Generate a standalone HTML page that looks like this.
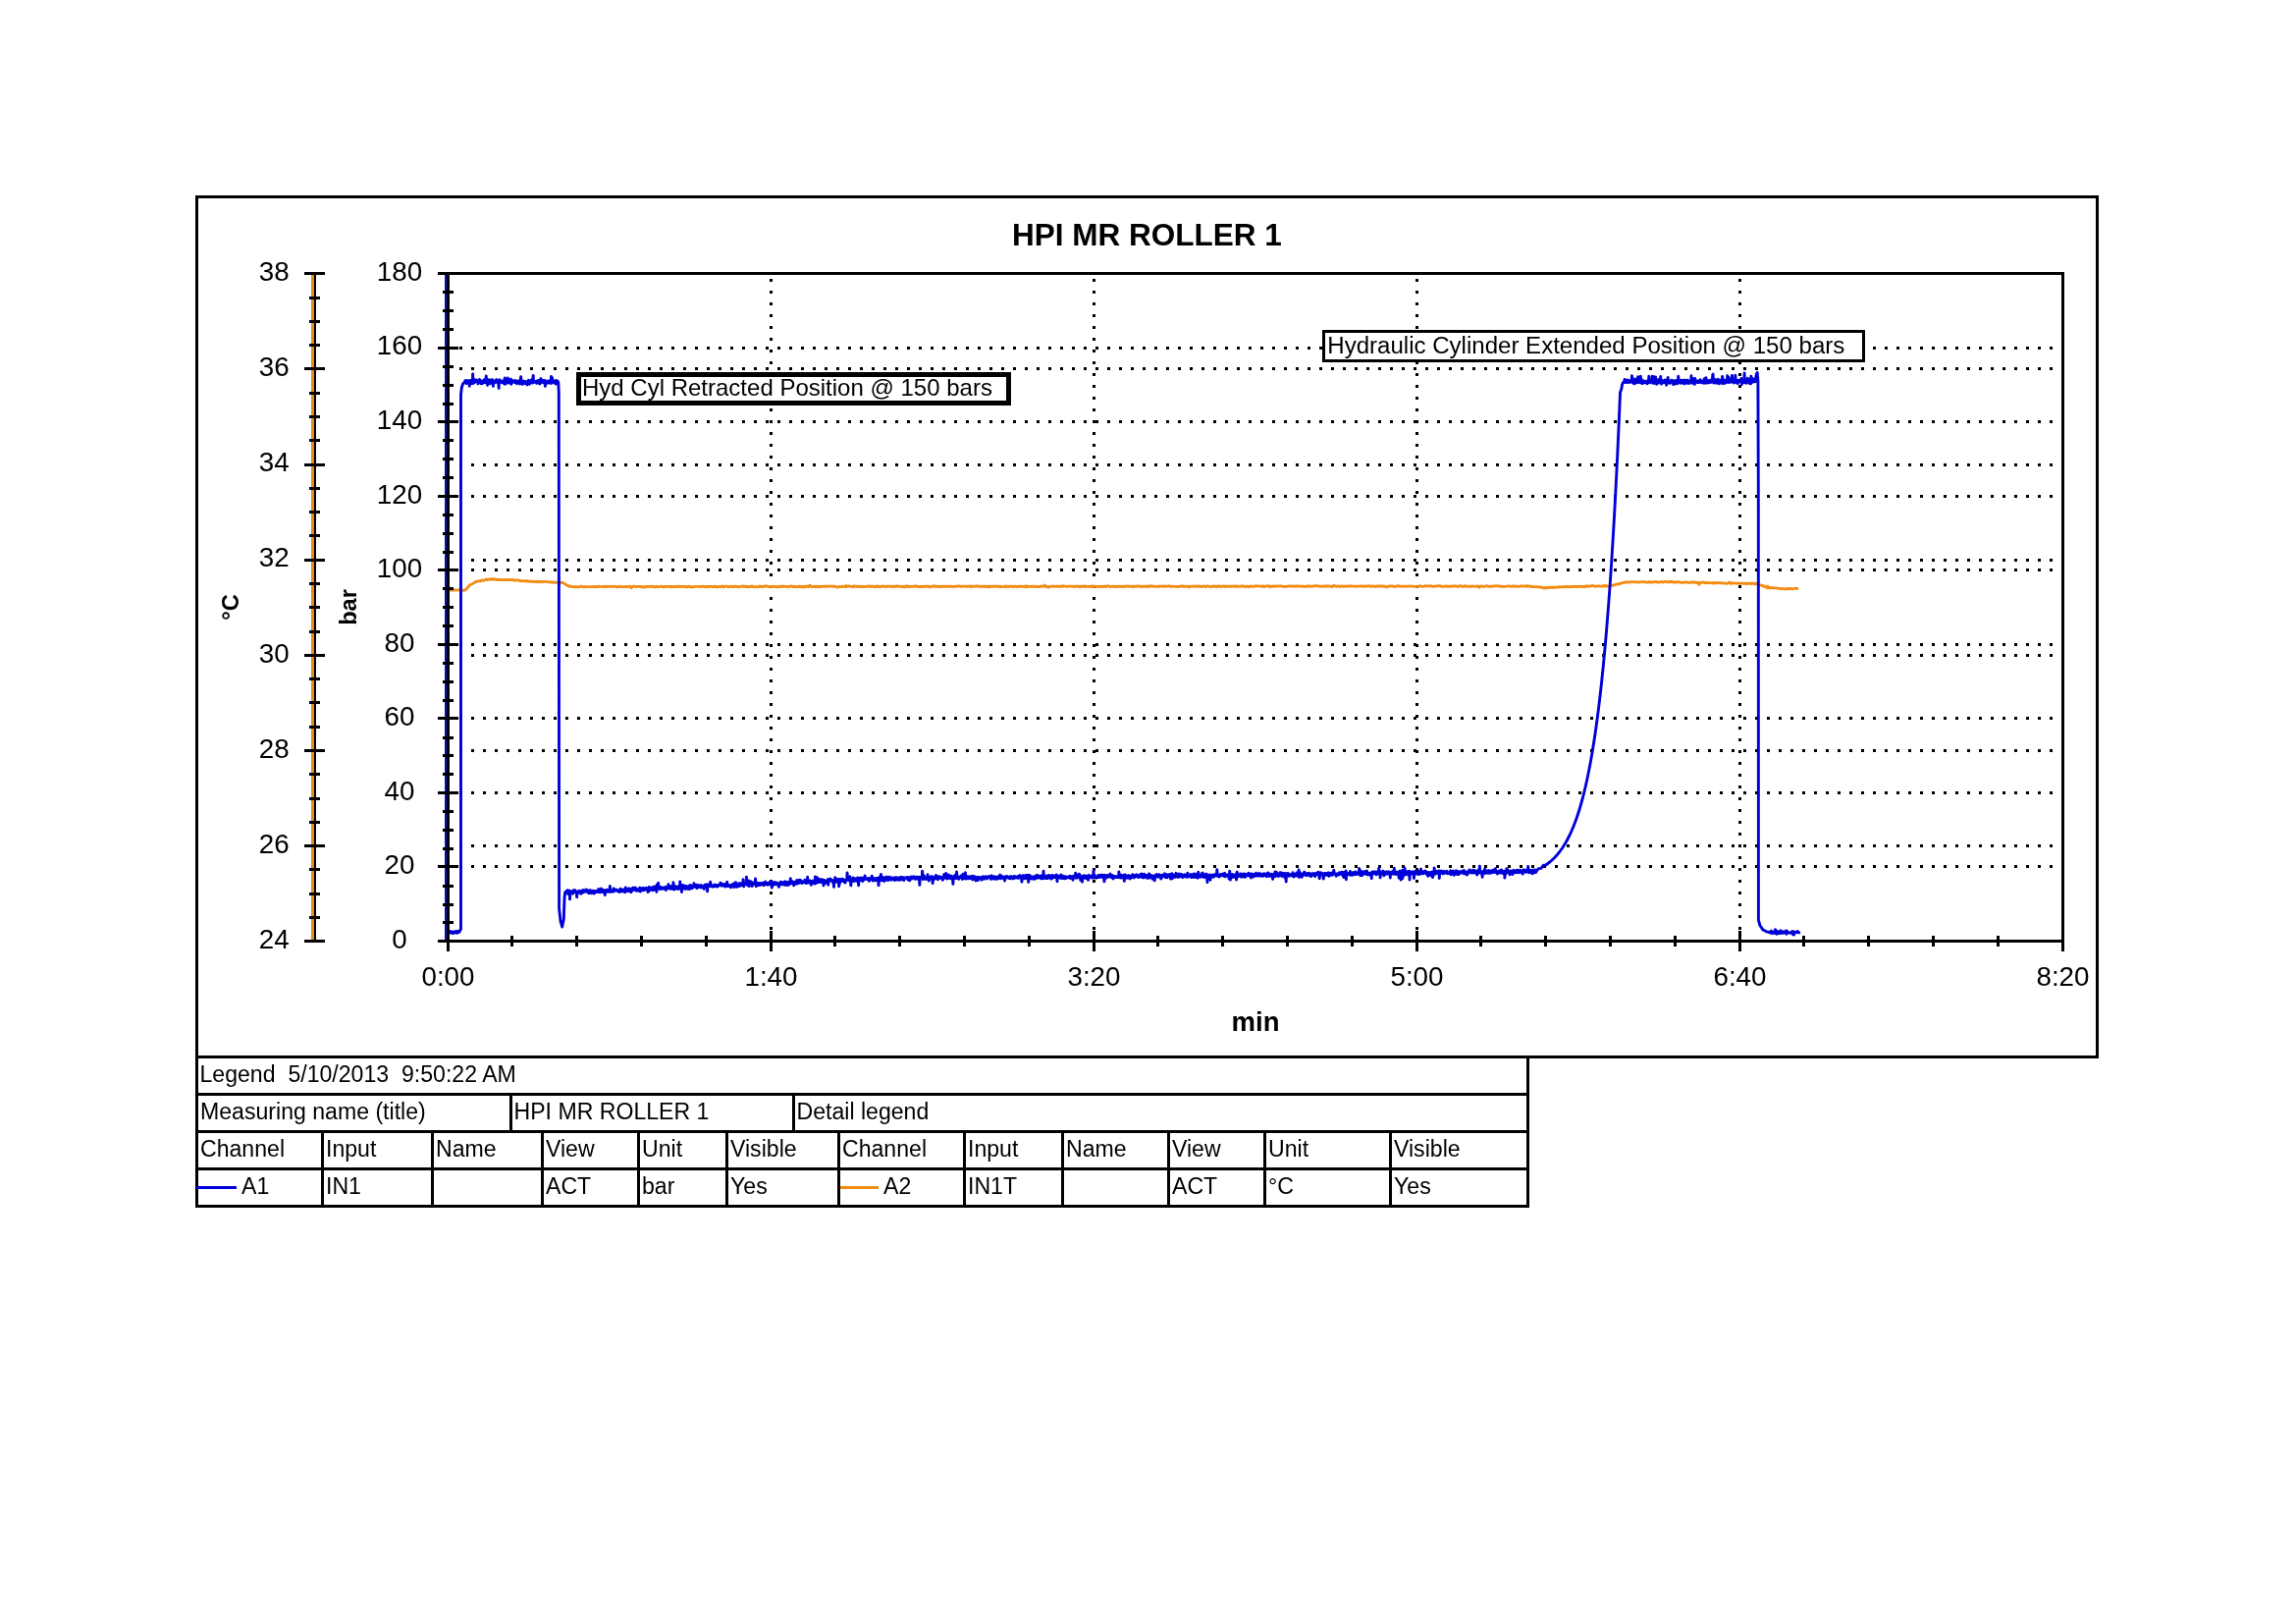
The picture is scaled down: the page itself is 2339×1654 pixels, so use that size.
<!DOCTYPE html>
<html><head><meta charset="utf-8"><title>HPI MR ROLLER 1</title>
<style>html,body{margin:0;padding:0;background:#fff;}body{width:2339px;height:1654px;overflow:hidden;font-family:"Liberation Sans",sans-serif;}svg{display:block;will-change:transform;}</style>
</head><body>
<svg width="2339" height="1654" viewBox="0 0 2339 1654" font-family="Liberation Sans, sans-serif"><rect x="199" y="199" width="1939" height="3" fill="#000"/>
<rect x="199" y="1075" width="1939" height="3" fill="#000"/>
<rect x="199" y="199" width="3" height="879" fill="#000"/>
<rect x="2135" y="199" width="3" height="879" fill="#000"/>
<text x="1168.5" y="250" font-size="31.5" text-anchor="middle" font-weight="bold">HPI MR ROLLER 1</text>
<path d="M784 284h3v3h-3zM784 296h3v3h-3zM784 308h3v3h-3zM784 320h3v3h-3zM784 332h3v3h-3zM784 344h3v3h-3zM784 356h3v3h-3zM784 368h3v3h-3zM784 380h3v3h-3zM784 392h3v3h-3zM784 404h3v3h-3zM784 416h3v3h-3zM784 428h3v3h-3zM784 440h3v3h-3zM784 452h3v3h-3zM784 464h3v3h-3zM784 476h3v3h-3zM784 488h3v3h-3zM784 500h3v3h-3zM784 512h3v3h-3zM784 524h3v3h-3zM784 536h3v3h-3zM784 548h3v3h-3zM784 560h3v3h-3zM784 572h3v3h-3zM784 584h3v3h-3zM784 596h3v3h-3zM784 608h3v3h-3zM784 620h3v3h-3zM784 632h3v3h-3zM784 644h3v3h-3zM784 656h3v3h-3zM784 668h3v3h-3zM784 680h3v3h-3zM784 692h3v3h-3zM784 704h3v3h-3zM784 716h3v3h-3zM784 728h3v3h-3zM784 740h3v3h-3zM784 752h3v3h-3zM784 764h3v3h-3zM784 776h3v3h-3zM784 788h3v3h-3zM784 800h3v3h-3zM784 812h3v3h-3zM784 824h3v3h-3zM784 836h3v3h-3zM784 848h3v3h-3zM784 860h3v3h-3zM784 872h3v3h-3zM784 884h3v3h-3zM784 896h3v3h-3zM784 908h3v3h-3zM784 920h3v3h-3zM784 932h3v3h-3zM784 944h3v3h-3zM1113 284h3v3h-3zM1113 296h3v3h-3zM1113 308h3v3h-3zM1113 320h3v3h-3zM1113 332h3v3h-3zM1113 344h3v3h-3zM1113 356h3v3h-3zM1113 368h3v3h-3zM1113 380h3v3h-3zM1113 392h3v3h-3zM1113 404h3v3h-3zM1113 416h3v3h-3zM1113 428h3v3h-3zM1113 440h3v3h-3zM1113 452h3v3h-3zM1113 464h3v3h-3zM1113 476h3v3h-3zM1113 488h3v3h-3zM1113 500h3v3h-3zM1113 512h3v3h-3zM1113 524h3v3h-3zM1113 536h3v3h-3zM1113 548h3v3h-3zM1113 560h3v3h-3zM1113 572h3v3h-3zM1113 584h3v3h-3zM1113 596h3v3h-3zM1113 608h3v3h-3zM1113 620h3v3h-3zM1113 632h3v3h-3zM1113 644h3v3h-3zM1113 656h3v3h-3zM1113 668h3v3h-3zM1113 680h3v3h-3zM1113 692h3v3h-3zM1113 704h3v3h-3zM1113 716h3v3h-3zM1113 728h3v3h-3zM1113 740h3v3h-3zM1113 752h3v3h-3zM1113 764h3v3h-3zM1113 776h3v3h-3zM1113 788h3v3h-3zM1113 800h3v3h-3zM1113 812h3v3h-3zM1113 824h3v3h-3zM1113 836h3v3h-3zM1113 848h3v3h-3zM1113 860h3v3h-3zM1113 872h3v3h-3zM1113 884h3v3h-3zM1113 896h3v3h-3zM1113 908h3v3h-3zM1113 920h3v3h-3zM1113 932h3v3h-3zM1113 944h3v3h-3zM1442 284h3v3h-3zM1442 296h3v3h-3zM1442 308h3v3h-3zM1442 320h3v3h-3zM1442 332h3v3h-3zM1442 344h3v3h-3zM1442 356h3v3h-3zM1442 368h3v3h-3zM1442 380h3v3h-3zM1442 392h3v3h-3zM1442 404h3v3h-3zM1442 416h3v3h-3zM1442 428h3v3h-3zM1442 440h3v3h-3zM1442 452h3v3h-3zM1442 464h3v3h-3zM1442 476h3v3h-3zM1442 488h3v3h-3zM1442 500h3v3h-3zM1442 512h3v3h-3zM1442 524h3v3h-3zM1442 536h3v3h-3zM1442 548h3v3h-3zM1442 560h3v3h-3zM1442 572h3v3h-3zM1442 584h3v3h-3zM1442 596h3v3h-3zM1442 608h3v3h-3zM1442 620h3v3h-3zM1442 632h3v3h-3zM1442 644h3v3h-3zM1442 656h3v3h-3zM1442 668h3v3h-3zM1442 680h3v3h-3zM1442 692h3v3h-3zM1442 704h3v3h-3zM1442 716h3v3h-3zM1442 728h3v3h-3zM1442 740h3v3h-3zM1442 752h3v3h-3zM1442 764h3v3h-3zM1442 776h3v3h-3zM1442 788h3v3h-3zM1442 800h3v3h-3zM1442 812h3v3h-3zM1442 824h3v3h-3zM1442 836h3v3h-3zM1442 848h3v3h-3zM1442 860h3v3h-3zM1442 872h3v3h-3zM1442 884h3v3h-3zM1442 896h3v3h-3zM1442 908h3v3h-3zM1442 920h3v3h-3zM1442 932h3v3h-3zM1442 944h3v3h-3zM1771 284h3v3h-3zM1771 296h3v3h-3zM1771 308h3v3h-3zM1771 320h3v3h-3zM1771 332h3v3h-3zM1771 344h3v3h-3zM1771 356h3v3h-3zM1771 368h3v3h-3zM1771 380h3v3h-3zM1771 392h3v3h-3zM1771 404h3v3h-3zM1771 416h3v3h-3zM1771 428h3v3h-3zM1771 440h3v3h-3zM1771 452h3v3h-3zM1771 464h3v3h-3zM1771 476h3v3h-3zM1771 488h3v3h-3zM1771 500h3v3h-3zM1771 512h3v3h-3zM1771 524h3v3h-3zM1771 536h3v3h-3zM1771 548h3v3h-3zM1771 560h3v3h-3zM1771 572h3v3h-3zM1771 584h3v3h-3zM1771 596h3v3h-3zM1771 608h3v3h-3zM1771 620h3v3h-3zM1771 632h3v3h-3zM1771 644h3v3h-3zM1771 656h3v3h-3zM1771 668h3v3h-3zM1771 680h3v3h-3zM1771 692h3v3h-3zM1771 704h3v3h-3zM1771 716h3v3h-3zM1771 728h3v3h-3zM1771 740h3v3h-3zM1771 752h3v3h-3zM1771 764h3v3h-3zM1771 776h3v3h-3zM1771 788h3v3h-3zM1771 800h3v3h-3zM1771 812h3v3h-3zM1771 824h3v3h-3zM1771 836h3v3h-3zM1771 848h3v3h-3zM1771 860h3v3h-3zM1771 872h3v3h-3zM1771 884h3v3h-3zM1771 896h3v3h-3zM1771 908h3v3h-3zM1771 920h3v3h-3zM1771 932h3v3h-3zM1771 944h3v3h-3zM468 353h3v3h-3zM480 353h3v3h-3zM492 353h3v3h-3zM504 353h3v3h-3zM516 353h3v3h-3zM528 353h3v3h-3zM540 353h3v3h-3zM552 353h3v3h-3zM564 353h3v3h-3zM576 353h3v3h-3zM588 353h3v3h-3zM600 353h3v3h-3zM612 353h3v3h-3zM624 353h3v3h-3zM636 353h3v3h-3zM648 353h3v3h-3zM660 353h3v3h-3zM672 353h3v3h-3zM684 353h3v3h-3zM696 353h3v3h-3zM708 353h3v3h-3zM720 353h3v3h-3zM732 353h3v3h-3zM744 353h3v3h-3zM756 353h3v3h-3zM768 353h3v3h-3zM780 353h3v3h-3zM792 353h3v3h-3zM804 353h3v3h-3zM816 353h3v3h-3zM828 353h3v3h-3zM840 353h3v3h-3zM852 353h3v3h-3zM864 353h3v3h-3zM876 353h3v3h-3zM888 353h3v3h-3zM900 353h3v3h-3zM912 353h3v3h-3zM924 353h3v3h-3zM936 353h3v3h-3zM948 353h3v3h-3zM960 353h3v3h-3zM972 353h3v3h-3zM984 353h3v3h-3zM996 353h3v3h-3zM1008 353h3v3h-3zM1020 353h3v3h-3zM1032 353h3v3h-3zM1044 353h3v3h-3zM1056 353h3v3h-3zM1068 353h3v3h-3zM1080 353h3v3h-3zM1092 353h3v3h-3zM1104 353h3v3h-3zM1116 353h3v3h-3zM1128 353h3v3h-3zM1140 353h3v3h-3zM1152 353h3v3h-3zM1164 353h3v3h-3zM1176 353h3v3h-3zM1188 353h3v3h-3zM1200 353h3v3h-3zM1212 353h3v3h-3zM1224 353h3v3h-3zM1236 353h3v3h-3zM1248 353h3v3h-3zM1260 353h3v3h-3zM1272 353h3v3h-3zM1284 353h3v3h-3zM1296 353h3v3h-3zM1308 353h3v3h-3zM1320 353h3v3h-3zM1332 353h3v3h-3zM1344 353h3v3h-3zM1356 353h3v3h-3zM1368 353h3v3h-3zM1380 353h3v3h-3zM1392 353h3v3h-3zM1404 353h3v3h-3zM1416 353h3v3h-3zM1428 353h3v3h-3zM1440 353h3v3h-3zM1452 353h3v3h-3zM1464 353h3v3h-3zM1476 353h3v3h-3zM1488 353h3v3h-3zM1500 353h3v3h-3zM1512 353h3v3h-3zM1524 353h3v3h-3zM1536 353h3v3h-3zM1548 353h3v3h-3zM1560 353h3v3h-3zM1572 353h3v3h-3zM1584 353h3v3h-3zM1596 353h3v3h-3zM1608 353h3v3h-3zM1620 353h3v3h-3zM1632 353h3v3h-3zM1644 353h3v3h-3zM1656 353h3v3h-3zM1668 353h3v3h-3zM1680 353h3v3h-3zM1692 353h3v3h-3zM1704 353h3v3h-3zM1716 353h3v3h-3zM1728 353h3v3h-3zM1740 353h3v3h-3zM1752 353h3v3h-3zM1764 353h3v3h-3zM1776 353h3v3h-3zM1788 353h3v3h-3zM1800 353h3v3h-3zM1812 353h3v3h-3zM1824 353h3v3h-3zM1836 353h3v3h-3zM1848 353h3v3h-3zM1860 353h3v3h-3zM1872 353h3v3h-3zM1884 353h3v3h-3zM1896 353h3v3h-3zM1908 353h3v3h-3zM1920 353h3v3h-3zM1932 353h3v3h-3zM1944 353h3v3h-3zM1956 353h3v3h-3zM1968 353h3v3h-3zM1980 353h3v3h-3zM1992 353h3v3h-3zM2004 353h3v3h-3zM2016 353h3v3h-3zM2028 353h3v3h-3zM2040 353h3v3h-3zM2052 353h3v3h-3zM2064 353h3v3h-3zM2076 353h3v3h-3zM2088 353h3v3h-3zM468 428h3v3h-3zM480 428h3v3h-3zM492 428h3v3h-3zM504 428h3v3h-3zM516 428h3v3h-3zM528 428h3v3h-3zM540 428h3v3h-3zM552 428h3v3h-3zM564 428h3v3h-3zM576 428h3v3h-3zM588 428h3v3h-3zM600 428h3v3h-3zM612 428h3v3h-3zM624 428h3v3h-3zM636 428h3v3h-3zM648 428h3v3h-3zM660 428h3v3h-3zM672 428h3v3h-3zM684 428h3v3h-3zM696 428h3v3h-3zM708 428h3v3h-3zM720 428h3v3h-3zM732 428h3v3h-3zM744 428h3v3h-3zM756 428h3v3h-3zM768 428h3v3h-3zM780 428h3v3h-3zM792 428h3v3h-3zM804 428h3v3h-3zM816 428h3v3h-3zM828 428h3v3h-3zM840 428h3v3h-3zM852 428h3v3h-3zM864 428h3v3h-3zM876 428h3v3h-3zM888 428h3v3h-3zM900 428h3v3h-3zM912 428h3v3h-3zM924 428h3v3h-3zM936 428h3v3h-3zM948 428h3v3h-3zM960 428h3v3h-3zM972 428h3v3h-3zM984 428h3v3h-3zM996 428h3v3h-3zM1008 428h3v3h-3zM1020 428h3v3h-3zM1032 428h3v3h-3zM1044 428h3v3h-3zM1056 428h3v3h-3zM1068 428h3v3h-3zM1080 428h3v3h-3zM1092 428h3v3h-3zM1104 428h3v3h-3zM1116 428h3v3h-3zM1128 428h3v3h-3zM1140 428h3v3h-3zM1152 428h3v3h-3zM1164 428h3v3h-3zM1176 428h3v3h-3zM1188 428h3v3h-3zM1200 428h3v3h-3zM1212 428h3v3h-3zM1224 428h3v3h-3zM1236 428h3v3h-3zM1248 428h3v3h-3zM1260 428h3v3h-3zM1272 428h3v3h-3zM1284 428h3v3h-3zM1296 428h3v3h-3zM1308 428h3v3h-3zM1320 428h3v3h-3zM1332 428h3v3h-3zM1344 428h3v3h-3zM1356 428h3v3h-3zM1368 428h3v3h-3zM1380 428h3v3h-3zM1392 428h3v3h-3zM1404 428h3v3h-3zM1416 428h3v3h-3zM1428 428h3v3h-3zM1440 428h3v3h-3zM1452 428h3v3h-3zM1464 428h3v3h-3zM1476 428h3v3h-3zM1488 428h3v3h-3zM1500 428h3v3h-3zM1512 428h3v3h-3zM1524 428h3v3h-3zM1536 428h3v3h-3zM1548 428h3v3h-3zM1560 428h3v3h-3zM1572 428h3v3h-3zM1584 428h3v3h-3zM1596 428h3v3h-3zM1608 428h3v3h-3zM1620 428h3v3h-3zM1632 428h3v3h-3zM1644 428h3v3h-3zM1656 428h3v3h-3zM1668 428h3v3h-3zM1680 428h3v3h-3zM1692 428h3v3h-3zM1704 428h3v3h-3zM1716 428h3v3h-3zM1728 428h3v3h-3zM1740 428h3v3h-3zM1752 428h3v3h-3zM1764 428h3v3h-3zM1776 428h3v3h-3zM1788 428h3v3h-3zM1800 428h3v3h-3zM1812 428h3v3h-3zM1824 428h3v3h-3zM1836 428h3v3h-3zM1848 428h3v3h-3zM1860 428h3v3h-3zM1872 428h3v3h-3zM1884 428h3v3h-3zM1896 428h3v3h-3zM1908 428h3v3h-3zM1920 428h3v3h-3zM1932 428h3v3h-3zM1944 428h3v3h-3zM1956 428h3v3h-3zM1968 428h3v3h-3zM1980 428h3v3h-3zM1992 428h3v3h-3zM2004 428h3v3h-3zM2016 428h3v3h-3zM2028 428h3v3h-3zM2040 428h3v3h-3zM2052 428h3v3h-3zM2064 428h3v3h-3zM2076 428h3v3h-3zM2088 428h3v3h-3zM468 504h3v3h-3zM480 504h3v3h-3zM492 504h3v3h-3zM504 504h3v3h-3zM516 504h3v3h-3zM528 504h3v3h-3zM540 504h3v3h-3zM552 504h3v3h-3zM564 504h3v3h-3zM576 504h3v3h-3zM588 504h3v3h-3zM600 504h3v3h-3zM612 504h3v3h-3zM624 504h3v3h-3zM636 504h3v3h-3zM648 504h3v3h-3zM660 504h3v3h-3zM672 504h3v3h-3zM684 504h3v3h-3zM696 504h3v3h-3zM708 504h3v3h-3zM720 504h3v3h-3zM732 504h3v3h-3zM744 504h3v3h-3zM756 504h3v3h-3zM768 504h3v3h-3zM780 504h3v3h-3zM792 504h3v3h-3zM804 504h3v3h-3zM816 504h3v3h-3zM828 504h3v3h-3zM840 504h3v3h-3zM852 504h3v3h-3zM864 504h3v3h-3zM876 504h3v3h-3zM888 504h3v3h-3zM900 504h3v3h-3zM912 504h3v3h-3zM924 504h3v3h-3zM936 504h3v3h-3zM948 504h3v3h-3zM960 504h3v3h-3zM972 504h3v3h-3zM984 504h3v3h-3zM996 504h3v3h-3zM1008 504h3v3h-3zM1020 504h3v3h-3zM1032 504h3v3h-3zM1044 504h3v3h-3zM1056 504h3v3h-3zM1068 504h3v3h-3zM1080 504h3v3h-3zM1092 504h3v3h-3zM1104 504h3v3h-3zM1116 504h3v3h-3zM1128 504h3v3h-3zM1140 504h3v3h-3zM1152 504h3v3h-3zM1164 504h3v3h-3zM1176 504h3v3h-3zM1188 504h3v3h-3zM1200 504h3v3h-3zM1212 504h3v3h-3zM1224 504h3v3h-3zM1236 504h3v3h-3zM1248 504h3v3h-3zM1260 504h3v3h-3zM1272 504h3v3h-3zM1284 504h3v3h-3zM1296 504h3v3h-3zM1308 504h3v3h-3zM1320 504h3v3h-3zM1332 504h3v3h-3zM1344 504h3v3h-3zM1356 504h3v3h-3zM1368 504h3v3h-3zM1380 504h3v3h-3zM1392 504h3v3h-3zM1404 504h3v3h-3zM1416 504h3v3h-3zM1428 504h3v3h-3zM1440 504h3v3h-3zM1452 504h3v3h-3zM1464 504h3v3h-3zM1476 504h3v3h-3zM1488 504h3v3h-3zM1500 504h3v3h-3zM1512 504h3v3h-3zM1524 504h3v3h-3zM1536 504h3v3h-3zM1548 504h3v3h-3zM1560 504h3v3h-3zM1572 504h3v3h-3zM1584 504h3v3h-3zM1596 504h3v3h-3zM1608 504h3v3h-3zM1620 504h3v3h-3zM1632 504h3v3h-3zM1644 504h3v3h-3zM1656 504h3v3h-3zM1668 504h3v3h-3zM1680 504h3v3h-3zM1692 504h3v3h-3zM1704 504h3v3h-3zM1716 504h3v3h-3zM1728 504h3v3h-3zM1740 504h3v3h-3zM1752 504h3v3h-3zM1764 504h3v3h-3zM1776 504h3v3h-3zM1788 504h3v3h-3zM1800 504h3v3h-3zM1812 504h3v3h-3zM1824 504h3v3h-3zM1836 504h3v3h-3zM1848 504h3v3h-3zM1860 504h3v3h-3zM1872 504h3v3h-3zM1884 504h3v3h-3zM1896 504h3v3h-3zM1908 504h3v3h-3zM1920 504h3v3h-3zM1932 504h3v3h-3zM1944 504h3v3h-3zM1956 504h3v3h-3zM1968 504h3v3h-3zM1980 504h3v3h-3zM1992 504h3v3h-3zM2004 504h3v3h-3zM2016 504h3v3h-3zM2028 504h3v3h-3zM2040 504h3v3h-3zM2052 504h3v3h-3zM2064 504h3v3h-3zM2076 504h3v3h-3zM2088 504h3v3h-3zM468 579h3v3h-3zM480 579h3v3h-3zM492 579h3v3h-3zM504 579h3v3h-3zM516 579h3v3h-3zM528 579h3v3h-3zM540 579h3v3h-3zM552 579h3v3h-3zM564 579h3v3h-3zM576 579h3v3h-3zM588 579h3v3h-3zM600 579h3v3h-3zM612 579h3v3h-3zM624 579h3v3h-3zM636 579h3v3h-3zM648 579h3v3h-3zM660 579h3v3h-3zM672 579h3v3h-3zM684 579h3v3h-3zM696 579h3v3h-3zM708 579h3v3h-3zM720 579h3v3h-3zM732 579h3v3h-3zM744 579h3v3h-3zM756 579h3v3h-3zM768 579h3v3h-3zM780 579h3v3h-3zM792 579h3v3h-3zM804 579h3v3h-3zM816 579h3v3h-3zM828 579h3v3h-3zM840 579h3v3h-3zM852 579h3v3h-3zM864 579h3v3h-3zM876 579h3v3h-3zM888 579h3v3h-3zM900 579h3v3h-3zM912 579h3v3h-3zM924 579h3v3h-3zM936 579h3v3h-3zM948 579h3v3h-3zM960 579h3v3h-3zM972 579h3v3h-3zM984 579h3v3h-3zM996 579h3v3h-3zM1008 579h3v3h-3zM1020 579h3v3h-3zM1032 579h3v3h-3zM1044 579h3v3h-3zM1056 579h3v3h-3zM1068 579h3v3h-3zM1080 579h3v3h-3zM1092 579h3v3h-3zM1104 579h3v3h-3zM1116 579h3v3h-3zM1128 579h3v3h-3zM1140 579h3v3h-3zM1152 579h3v3h-3zM1164 579h3v3h-3zM1176 579h3v3h-3zM1188 579h3v3h-3zM1200 579h3v3h-3zM1212 579h3v3h-3zM1224 579h3v3h-3zM1236 579h3v3h-3zM1248 579h3v3h-3zM1260 579h3v3h-3zM1272 579h3v3h-3zM1284 579h3v3h-3zM1296 579h3v3h-3zM1308 579h3v3h-3zM1320 579h3v3h-3zM1332 579h3v3h-3zM1344 579h3v3h-3zM1356 579h3v3h-3zM1368 579h3v3h-3zM1380 579h3v3h-3zM1392 579h3v3h-3zM1404 579h3v3h-3zM1416 579h3v3h-3zM1428 579h3v3h-3zM1440 579h3v3h-3zM1452 579h3v3h-3zM1464 579h3v3h-3zM1476 579h3v3h-3zM1488 579h3v3h-3zM1500 579h3v3h-3zM1512 579h3v3h-3zM1524 579h3v3h-3zM1536 579h3v3h-3zM1548 579h3v3h-3zM1560 579h3v3h-3zM1572 579h3v3h-3zM1584 579h3v3h-3zM1596 579h3v3h-3zM1608 579h3v3h-3zM1620 579h3v3h-3zM1632 579h3v3h-3zM1644 579h3v3h-3zM1656 579h3v3h-3zM1668 579h3v3h-3zM1680 579h3v3h-3zM1692 579h3v3h-3zM1704 579h3v3h-3zM1716 579h3v3h-3zM1728 579h3v3h-3zM1740 579h3v3h-3zM1752 579h3v3h-3zM1764 579h3v3h-3zM1776 579h3v3h-3zM1788 579h3v3h-3zM1800 579h3v3h-3zM1812 579h3v3h-3zM1824 579h3v3h-3zM1836 579h3v3h-3zM1848 579h3v3h-3zM1860 579h3v3h-3zM1872 579h3v3h-3zM1884 579h3v3h-3zM1896 579h3v3h-3zM1908 579h3v3h-3zM1920 579h3v3h-3zM1932 579h3v3h-3zM1944 579h3v3h-3zM1956 579h3v3h-3zM1968 579h3v3h-3zM1980 579h3v3h-3zM1992 579h3v3h-3zM2004 579h3v3h-3zM2016 579h3v3h-3zM2028 579h3v3h-3zM2040 579h3v3h-3zM2052 579h3v3h-3zM2064 579h3v3h-3zM2076 579h3v3h-3zM2088 579h3v3h-3zM468 655h3v3h-3zM480 655h3v3h-3zM492 655h3v3h-3zM504 655h3v3h-3zM516 655h3v3h-3zM528 655h3v3h-3zM540 655h3v3h-3zM552 655h3v3h-3zM564 655h3v3h-3zM576 655h3v3h-3zM588 655h3v3h-3zM600 655h3v3h-3zM612 655h3v3h-3zM624 655h3v3h-3zM636 655h3v3h-3zM648 655h3v3h-3zM660 655h3v3h-3zM672 655h3v3h-3zM684 655h3v3h-3zM696 655h3v3h-3zM708 655h3v3h-3zM720 655h3v3h-3zM732 655h3v3h-3zM744 655h3v3h-3zM756 655h3v3h-3zM768 655h3v3h-3zM780 655h3v3h-3zM792 655h3v3h-3zM804 655h3v3h-3zM816 655h3v3h-3zM828 655h3v3h-3zM840 655h3v3h-3zM852 655h3v3h-3zM864 655h3v3h-3zM876 655h3v3h-3zM888 655h3v3h-3zM900 655h3v3h-3zM912 655h3v3h-3zM924 655h3v3h-3zM936 655h3v3h-3zM948 655h3v3h-3zM960 655h3v3h-3zM972 655h3v3h-3zM984 655h3v3h-3zM996 655h3v3h-3zM1008 655h3v3h-3zM1020 655h3v3h-3zM1032 655h3v3h-3zM1044 655h3v3h-3zM1056 655h3v3h-3zM1068 655h3v3h-3zM1080 655h3v3h-3zM1092 655h3v3h-3zM1104 655h3v3h-3zM1116 655h3v3h-3zM1128 655h3v3h-3zM1140 655h3v3h-3zM1152 655h3v3h-3zM1164 655h3v3h-3zM1176 655h3v3h-3zM1188 655h3v3h-3zM1200 655h3v3h-3zM1212 655h3v3h-3zM1224 655h3v3h-3zM1236 655h3v3h-3zM1248 655h3v3h-3zM1260 655h3v3h-3zM1272 655h3v3h-3zM1284 655h3v3h-3zM1296 655h3v3h-3zM1308 655h3v3h-3zM1320 655h3v3h-3zM1332 655h3v3h-3zM1344 655h3v3h-3zM1356 655h3v3h-3zM1368 655h3v3h-3zM1380 655h3v3h-3zM1392 655h3v3h-3zM1404 655h3v3h-3zM1416 655h3v3h-3zM1428 655h3v3h-3zM1440 655h3v3h-3zM1452 655h3v3h-3zM1464 655h3v3h-3zM1476 655h3v3h-3zM1488 655h3v3h-3zM1500 655h3v3h-3zM1512 655h3v3h-3zM1524 655h3v3h-3zM1536 655h3v3h-3zM1548 655h3v3h-3zM1560 655h3v3h-3zM1572 655h3v3h-3zM1584 655h3v3h-3zM1596 655h3v3h-3zM1608 655h3v3h-3zM1620 655h3v3h-3zM1632 655h3v3h-3zM1644 655h3v3h-3zM1656 655h3v3h-3zM1668 655h3v3h-3zM1680 655h3v3h-3zM1692 655h3v3h-3zM1704 655h3v3h-3zM1716 655h3v3h-3zM1728 655h3v3h-3zM1740 655h3v3h-3zM1752 655h3v3h-3zM1764 655h3v3h-3zM1776 655h3v3h-3zM1788 655h3v3h-3zM1800 655h3v3h-3zM1812 655h3v3h-3zM1824 655h3v3h-3zM1836 655h3v3h-3zM1848 655h3v3h-3zM1860 655h3v3h-3zM1872 655h3v3h-3zM1884 655h3v3h-3zM1896 655h3v3h-3zM1908 655h3v3h-3zM1920 655h3v3h-3zM1932 655h3v3h-3zM1944 655h3v3h-3zM1956 655h3v3h-3zM1968 655h3v3h-3zM1980 655h3v3h-3zM1992 655h3v3h-3zM2004 655h3v3h-3zM2016 655h3v3h-3zM2028 655h3v3h-3zM2040 655h3v3h-3zM2052 655h3v3h-3zM2064 655h3v3h-3zM2076 655h3v3h-3zM2088 655h3v3h-3zM468 730h3v3h-3zM480 730h3v3h-3zM492 730h3v3h-3zM504 730h3v3h-3zM516 730h3v3h-3zM528 730h3v3h-3zM540 730h3v3h-3zM552 730h3v3h-3zM564 730h3v3h-3zM576 730h3v3h-3zM588 730h3v3h-3zM600 730h3v3h-3zM612 730h3v3h-3zM624 730h3v3h-3zM636 730h3v3h-3zM648 730h3v3h-3zM660 730h3v3h-3zM672 730h3v3h-3zM684 730h3v3h-3zM696 730h3v3h-3zM708 730h3v3h-3zM720 730h3v3h-3zM732 730h3v3h-3zM744 730h3v3h-3zM756 730h3v3h-3zM768 730h3v3h-3zM780 730h3v3h-3zM792 730h3v3h-3zM804 730h3v3h-3zM816 730h3v3h-3zM828 730h3v3h-3zM840 730h3v3h-3zM852 730h3v3h-3zM864 730h3v3h-3zM876 730h3v3h-3zM888 730h3v3h-3zM900 730h3v3h-3zM912 730h3v3h-3zM924 730h3v3h-3zM936 730h3v3h-3zM948 730h3v3h-3zM960 730h3v3h-3zM972 730h3v3h-3zM984 730h3v3h-3zM996 730h3v3h-3zM1008 730h3v3h-3zM1020 730h3v3h-3zM1032 730h3v3h-3zM1044 730h3v3h-3zM1056 730h3v3h-3zM1068 730h3v3h-3zM1080 730h3v3h-3zM1092 730h3v3h-3zM1104 730h3v3h-3zM1116 730h3v3h-3zM1128 730h3v3h-3zM1140 730h3v3h-3zM1152 730h3v3h-3zM1164 730h3v3h-3zM1176 730h3v3h-3zM1188 730h3v3h-3zM1200 730h3v3h-3zM1212 730h3v3h-3zM1224 730h3v3h-3zM1236 730h3v3h-3zM1248 730h3v3h-3zM1260 730h3v3h-3zM1272 730h3v3h-3zM1284 730h3v3h-3zM1296 730h3v3h-3zM1308 730h3v3h-3zM1320 730h3v3h-3zM1332 730h3v3h-3zM1344 730h3v3h-3zM1356 730h3v3h-3zM1368 730h3v3h-3zM1380 730h3v3h-3zM1392 730h3v3h-3zM1404 730h3v3h-3zM1416 730h3v3h-3zM1428 730h3v3h-3zM1440 730h3v3h-3zM1452 730h3v3h-3zM1464 730h3v3h-3zM1476 730h3v3h-3zM1488 730h3v3h-3zM1500 730h3v3h-3zM1512 730h3v3h-3zM1524 730h3v3h-3zM1536 730h3v3h-3zM1548 730h3v3h-3zM1560 730h3v3h-3zM1572 730h3v3h-3zM1584 730h3v3h-3zM1596 730h3v3h-3zM1608 730h3v3h-3zM1620 730h3v3h-3zM1632 730h3v3h-3zM1644 730h3v3h-3zM1656 730h3v3h-3zM1668 730h3v3h-3zM1680 730h3v3h-3zM1692 730h3v3h-3zM1704 730h3v3h-3zM1716 730h3v3h-3zM1728 730h3v3h-3zM1740 730h3v3h-3zM1752 730h3v3h-3zM1764 730h3v3h-3zM1776 730h3v3h-3zM1788 730h3v3h-3zM1800 730h3v3h-3zM1812 730h3v3h-3zM1824 730h3v3h-3zM1836 730h3v3h-3zM1848 730h3v3h-3zM1860 730h3v3h-3zM1872 730h3v3h-3zM1884 730h3v3h-3zM1896 730h3v3h-3zM1908 730h3v3h-3zM1920 730h3v3h-3zM1932 730h3v3h-3zM1944 730h3v3h-3zM1956 730h3v3h-3zM1968 730h3v3h-3zM1980 730h3v3h-3zM1992 730h3v3h-3zM2004 730h3v3h-3zM2016 730h3v3h-3zM2028 730h3v3h-3zM2040 730h3v3h-3zM2052 730h3v3h-3zM2064 730h3v3h-3zM2076 730h3v3h-3zM2088 730h3v3h-3zM468 806h3v3h-3zM480 806h3v3h-3zM492 806h3v3h-3zM504 806h3v3h-3zM516 806h3v3h-3zM528 806h3v3h-3zM540 806h3v3h-3zM552 806h3v3h-3zM564 806h3v3h-3zM576 806h3v3h-3zM588 806h3v3h-3zM600 806h3v3h-3zM612 806h3v3h-3zM624 806h3v3h-3zM636 806h3v3h-3zM648 806h3v3h-3zM660 806h3v3h-3zM672 806h3v3h-3zM684 806h3v3h-3zM696 806h3v3h-3zM708 806h3v3h-3zM720 806h3v3h-3zM732 806h3v3h-3zM744 806h3v3h-3zM756 806h3v3h-3zM768 806h3v3h-3zM780 806h3v3h-3zM792 806h3v3h-3zM804 806h3v3h-3zM816 806h3v3h-3zM828 806h3v3h-3zM840 806h3v3h-3zM852 806h3v3h-3zM864 806h3v3h-3zM876 806h3v3h-3zM888 806h3v3h-3zM900 806h3v3h-3zM912 806h3v3h-3zM924 806h3v3h-3zM936 806h3v3h-3zM948 806h3v3h-3zM960 806h3v3h-3zM972 806h3v3h-3zM984 806h3v3h-3zM996 806h3v3h-3zM1008 806h3v3h-3zM1020 806h3v3h-3zM1032 806h3v3h-3zM1044 806h3v3h-3zM1056 806h3v3h-3zM1068 806h3v3h-3zM1080 806h3v3h-3zM1092 806h3v3h-3zM1104 806h3v3h-3zM1116 806h3v3h-3zM1128 806h3v3h-3zM1140 806h3v3h-3zM1152 806h3v3h-3zM1164 806h3v3h-3zM1176 806h3v3h-3zM1188 806h3v3h-3zM1200 806h3v3h-3zM1212 806h3v3h-3zM1224 806h3v3h-3zM1236 806h3v3h-3zM1248 806h3v3h-3zM1260 806h3v3h-3zM1272 806h3v3h-3zM1284 806h3v3h-3zM1296 806h3v3h-3zM1308 806h3v3h-3zM1320 806h3v3h-3zM1332 806h3v3h-3zM1344 806h3v3h-3zM1356 806h3v3h-3zM1368 806h3v3h-3zM1380 806h3v3h-3zM1392 806h3v3h-3zM1404 806h3v3h-3zM1416 806h3v3h-3zM1428 806h3v3h-3zM1440 806h3v3h-3zM1452 806h3v3h-3zM1464 806h3v3h-3zM1476 806h3v3h-3zM1488 806h3v3h-3zM1500 806h3v3h-3zM1512 806h3v3h-3zM1524 806h3v3h-3zM1536 806h3v3h-3zM1548 806h3v3h-3zM1560 806h3v3h-3zM1572 806h3v3h-3zM1584 806h3v3h-3zM1596 806h3v3h-3zM1608 806h3v3h-3zM1620 806h3v3h-3zM1632 806h3v3h-3zM1644 806h3v3h-3zM1656 806h3v3h-3zM1668 806h3v3h-3zM1680 806h3v3h-3zM1692 806h3v3h-3zM1704 806h3v3h-3zM1716 806h3v3h-3zM1728 806h3v3h-3zM1740 806h3v3h-3zM1752 806h3v3h-3zM1764 806h3v3h-3zM1776 806h3v3h-3zM1788 806h3v3h-3zM1800 806h3v3h-3zM1812 806h3v3h-3zM1824 806h3v3h-3zM1836 806h3v3h-3zM1848 806h3v3h-3zM1860 806h3v3h-3zM1872 806h3v3h-3zM1884 806h3v3h-3zM1896 806h3v3h-3zM1908 806h3v3h-3zM1920 806h3v3h-3zM1932 806h3v3h-3zM1944 806h3v3h-3zM1956 806h3v3h-3zM1968 806h3v3h-3zM1980 806h3v3h-3zM1992 806h3v3h-3zM2004 806h3v3h-3zM2016 806h3v3h-3zM2028 806h3v3h-3zM2040 806h3v3h-3zM2052 806h3v3h-3zM2064 806h3v3h-3zM2076 806h3v3h-3zM2088 806h3v3h-3zM468 881h3v3h-3zM480 881h3v3h-3zM492 881h3v3h-3zM504 881h3v3h-3zM516 881h3v3h-3zM528 881h3v3h-3zM540 881h3v3h-3zM552 881h3v3h-3zM564 881h3v3h-3zM576 881h3v3h-3zM588 881h3v3h-3zM600 881h3v3h-3zM612 881h3v3h-3zM624 881h3v3h-3zM636 881h3v3h-3zM648 881h3v3h-3zM660 881h3v3h-3zM672 881h3v3h-3zM684 881h3v3h-3zM696 881h3v3h-3zM708 881h3v3h-3zM720 881h3v3h-3zM732 881h3v3h-3zM744 881h3v3h-3zM756 881h3v3h-3zM768 881h3v3h-3zM780 881h3v3h-3zM792 881h3v3h-3zM804 881h3v3h-3zM816 881h3v3h-3zM828 881h3v3h-3zM840 881h3v3h-3zM852 881h3v3h-3zM864 881h3v3h-3zM876 881h3v3h-3zM888 881h3v3h-3zM900 881h3v3h-3zM912 881h3v3h-3zM924 881h3v3h-3zM936 881h3v3h-3zM948 881h3v3h-3zM960 881h3v3h-3zM972 881h3v3h-3zM984 881h3v3h-3zM996 881h3v3h-3zM1008 881h3v3h-3zM1020 881h3v3h-3zM1032 881h3v3h-3zM1044 881h3v3h-3zM1056 881h3v3h-3zM1068 881h3v3h-3zM1080 881h3v3h-3zM1092 881h3v3h-3zM1104 881h3v3h-3zM1116 881h3v3h-3zM1128 881h3v3h-3zM1140 881h3v3h-3zM1152 881h3v3h-3zM1164 881h3v3h-3zM1176 881h3v3h-3zM1188 881h3v3h-3zM1200 881h3v3h-3zM1212 881h3v3h-3zM1224 881h3v3h-3zM1236 881h3v3h-3zM1248 881h3v3h-3zM1260 881h3v3h-3zM1272 881h3v3h-3zM1284 881h3v3h-3zM1296 881h3v3h-3zM1308 881h3v3h-3zM1320 881h3v3h-3zM1332 881h3v3h-3zM1344 881h3v3h-3zM1356 881h3v3h-3zM1368 881h3v3h-3zM1380 881h3v3h-3zM1392 881h3v3h-3zM1404 881h3v3h-3zM1416 881h3v3h-3zM1428 881h3v3h-3zM1440 881h3v3h-3zM1452 881h3v3h-3zM1464 881h3v3h-3zM1476 881h3v3h-3zM1488 881h3v3h-3zM1500 881h3v3h-3zM1512 881h3v3h-3zM1524 881h3v3h-3zM1536 881h3v3h-3zM1548 881h3v3h-3zM1560 881h3v3h-3zM1572 881h3v3h-3zM1584 881h3v3h-3zM1596 881h3v3h-3zM1608 881h3v3h-3zM1620 881h3v3h-3zM1632 881h3v3h-3zM1644 881h3v3h-3zM1656 881h3v3h-3zM1668 881h3v3h-3zM1680 881h3v3h-3zM1692 881h3v3h-3zM1704 881h3v3h-3zM1716 881h3v3h-3zM1728 881h3v3h-3zM1740 881h3v3h-3zM1752 881h3v3h-3zM1764 881h3v3h-3zM1776 881h3v3h-3zM1788 881h3v3h-3zM1800 881h3v3h-3zM1812 881h3v3h-3zM1824 881h3v3h-3zM1836 881h3v3h-3zM1848 881h3v3h-3zM1860 881h3v3h-3zM1872 881h3v3h-3zM1884 881h3v3h-3zM1896 881h3v3h-3zM1908 881h3v3h-3zM1920 881h3v3h-3zM1932 881h3v3h-3zM1944 881h3v3h-3zM1956 881h3v3h-3zM1968 881h3v3h-3zM1980 881h3v3h-3zM1992 881h3v3h-3zM2004 881h3v3h-3zM2016 881h3v3h-3zM2028 881h3v3h-3zM2040 881h3v3h-3zM2052 881h3v3h-3zM2064 881h3v3h-3zM2076 881h3v3h-3zM2088 881h3v3h-3zM468 374h3v3h-3zM480 374h3v3h-3zM492 374h3v3h-3zM504 374h3v3h-3zM516 374h3v3h-3zM528 374h3v3h-3zM540 374h3v3h-3zM552 374h3v3h-3zM564 374h3v3h-3zM576 374h3v3h-3zM588 374h3v3h-3zM600 374h3v3h-3zM612 374h3v3h-3zM624 374h3v3h-3zM636 374h3v3h-3zM648 374h3v3h-3zM660 374h3v3h-3zM672 374h3v3h-3zM684 374h3v3h-3zM696 374h3v3h-3zM708 374h3v3h-3zM720 374h3v3h-3zM732 374h3v3h-3zM744 374h3v3h-3zM756 374h3v3h-3zM768 374h3v3h-3zM780 374h3v3h-3zM792 374h3v3h-3zM804 374h3v3h-3zM816 374h3v3h-3zM828 374h3v3h-3zM840 374h3v3h-3zM852 374h3v3h-3zM864 374h3v3h-3zM876 374h3v3h-3zM888 374h3v3h-3zM900 374h3v3h-3zM912 374h3v3h-3zM924 374h3v3h-3zM936 374h3v3h-3zM948 374h3v3h-3zM960 374h3v3h-3zM972 374h3v3h-3zM984 374h3v3h-3zM996 374h3v3h-3zM1008 374h3v3h-3zM1020 374h3v3h-3zM1032 374h3v3h-3zM1044 374h3v3h-3zM1056 374h3v3h-3zM1068 374h3v3h-3zM1080 374h3v3h-3zM1092 374h3v3h-3zM1104 374h3v3h-3zM1116 374h3v3h-3zM1128 374h3v3h-3zM1140 374h3v3h-3zM1152 374h3v3h-3zM1164 374h3v3h-3zM1176 374h3v3h-3zM1188 374h3v3h-3zM1200 374h3v3h-3zM1212 374h3v3h-3zM1224 374h3v3h-3zM1236 374h3v3h-3zM1248 374h3v3h-3zM1260 374h3v3h-3zM1272 374h3v3h-3zM1284 374h3v3h-3zM1296 374h3v3h-3zM1308 374h3v3h-3zM1320 374h3v3h-3zM1332 374h3v3h-3zM1344 374h3v3h-3zM1356 374h3v3h-3zM1368 374h3v3h-3zM1380 374h3v3h-3zM1392 374h3v3h-3zM1404 374h3v3h-3zM1416 374h3v3h-3zM1428 374h3v3h-3zM1440 374h3v3h-3zM1452 374h3v3h-3zM1464 374h3v3h-3zM1476 374h3v3h-3zM1488 374h3v3h-3zM1500 374h3v3h-3zM1512 374h3v3h-3zM1524 374h3v3h-3zM1536 374h3v3h-3zM1548 374h3v3h-3zM1560 374h3v3h-3zM1572 374h3v3h-3zM1584 374h3v3h-3zM1596 374h3v3h-3zM1608 374h3v3h-3zM1620 374h3v3h-3zM1632 374h3v3h-3zM1644 374h3v3h-3zM1656 374h3v3h-3zM1668 374h3v3h-3zM1680 374h3v3h-3zM1692 374h3v3h-3zM1704 374h3v3h-3zM1716 374h3v3h-3zM1728 374h3v3h-3zM1740 374h3v3h-3zM1752 374h3v3h-3zM1764 374h3v3h-3zM1776 374h3v3h-3zM1788 374h3v3h-3zM1800 374h3v3h-3zM1812 374h3v3h-3zM1824 374h3v3h-3zM1836 374h3v3h-3zM1848 374h3v3h-3zM1860 374h3v3h-3zM1872 374h3v3h-3zM1884 374h3v3h-3zM1896 374h3v3h-3zM1908 374h3v3h-3zM1920 374h3v3h-3zM1932 374h3v3h-3zM1944 374h3v3h-3zM1956 374h3v3h-3zM1968 374h3v3h-3zM1980 374h3v3h-3zM1992 374h3v3h-3zM2004 374h3v3h-3zM2016 374h3v3h-3zM2028 374h3v3h-3zM2040 374h3v3h-3zM2052 374h3v3h-3zM2064 374h3v3h-3zM2076 374h3v3h-3zM2088 374h3v3h-3zM468 472h3v3h-3zM480 472h3v3h-3zM492 472h3v3h-3zM504 472h3v3h-3zM516 472h3v3h-3zM528 472h3v3h-3zM540 472h3v3h-3zM552 472h3v3h-3zM564 472h3v3h-3zM576 472h3v3h-3zM588 472h3v3h-3zM600 472h3v3h-3zM612 472h3v3h-3zM624 472h3v3h-3zM636 472h3v3h-3zM648 472h3v3h-3zM660 472h3v3h-3zM672 472h3v3h-3zM684 472h3v3h-3zM696 472h3v3h-3zM708 472h3v3h-3zM720 472h3v3h-3zM732 472h3v3h-3zM744 472h3v3h-3zM756 472h3v3h-3zM768 472h3v3h-3zM780 472h3v3h-3zM792 472h3v3h-3zM804 472h3v3h-3zM816 472h3v3h-3zM828 472h3v3h-3zM840 472h3v3h-3zM852 472h3v3h-3zM864 472h3v3h-3zM876 472h3v3h-3zM888 472h3v3h-3zM900 472h3v3h-3zM912 472h3v3h-3zM924 472h3v3h-3zM936 472h3v3h-3zM948 472h3v3h-3zM960 472h3v3h-3zM972 472h3v3h-3zM984 472h3v3h-3zM996 472h3v3h-3zM1008 472h3v3h-3zM1020 472h3v3h-3zM1032 472h3v3h-3zM1044 472h3v3h-3zM1056 472h3v3h-3zM1068 472h3v3h-3zM1080 472h3v3h-3zM1092 472h3v3h-3zM1104 472h3v3h-3zM1116 472h3v3h-3zM1128 472h3v3h-3zM1140 472h3v3h-3zM1152 472h3v3h-3zM1164 472h3v3h-3zM1176 472h3v3h-3zM1188 472h3v3h-3zM1200 472h3v3h-3zM1212 472h3v3h-3zM1224 472h3v3h-3zM1236 472h3v3h-3zM1248 472h3v3h-3zM1260 472h3v3h-3zM1272 472h3v3h-3zM1284 472h3v3h-3zM1296 472h3v3h-3zM1308 472h3v3h-3zM1320 472h3v3h-3zM1332 472h3v3h-3zM1344 472h3v3h-3zM1356 472h3v3h-3zM1368 472h3v3h-3zM1380 472h3v3h-3zM1392 472h3v3h-3zM1404 472h3v3h-3zM1416 472h3v3h-3zM1428 472h3v3h-3zM1440 472h3v3h-3zM1452 472h3v3h-3zM1464 472h3v3h-3zM1476 472h3v3h-3zM1488 472h3v3h-3zM1500 472h3v3h-3zM1512 472h3v3h-3zM1524 472h3v3h-3zM1536 472h3v3h-3zM1548 472h3v3h-3zM1560 472h3v3h-3zM1572 472h3v3h-3zM1584 472h3v3h-3zM1596 472h3v3h-3zM1608 472h3v3h-3zM1620 472h3v3h-3zM1632 472h3v3h-3zM1644 472h3v3h-3zM1656 472h3v3h-3zM1668 472h3v3h-3zM1680 472h3v3h-3zM1692 472h3v3h-3zM1704 472h3v3h-3zM1716 472h3v3h-3zM1728 472h3v3h-3zM1740 472h3v3h-3zM1752 472h3v3h-3zM1764 472h3v3h-3zM1776 472h3v3h-3zM1788 472h3v3h-3zM1800 472h3v3h-3zM1812 472h3v3h-3zM1824 472h3v3h-3zM1836 472h3v3h-3zM1848 472h3v3h-3zM1860 472h3v3h-3zM1872 472h3v3h-3zM1884 472h3v3h-3zM1896 472h3v3h-3zM1908 472h3v3h-3zM1920 472h3v3h-3zM1932 472h3v3h-3zM1944 472h3v3h-3zM1956 472h3v3h-3zM1968 472h3v3h-3zM1980 472h3v3h-3zM1992 472h3v3h-3zM2004 472h3v3h-3zM2016 472h3v3h-3zM2028 472h3v3h-3zM2040 472h3v3h-3zM2052 472h3v3h-3zM2064 472h3v3h-3zM2076 472h3v3h-3zM2088 472h3v3h-3zM468 569h3v3h-3zM480 569h3v3h-3zM492 569h3v3h-3zM504 569h3v3h-3zM516 569h3v3h-3zM528 569h3v3h-3zM540 569h3v3h-3zM552 569h3v3h-3zM564 569h3v3h-3zM576 569h3v3h-3zM588 569h3v3h-3zM600 569h3v3h-3zM612 569h3v3h-3zM624 569h3v3h-3zM636 569h3v3h-3zM648 569h3v3h-3zM660 569h3v3h-3zM672 569h3v3h-3zM684 569h3v3h-3zM696 569h3v3h-3zM708 569h3v3h-3zM720 569h3v3h-3zM732 569h3v3h-3zM744 569h3v3h-3zM756 569h3v3h-3zM768 569h3v3h-3zM780 569h3v3h-3zM792 569h3v3h-3zM804 569h3v3h-3zM816 569h3v3h-3zM828 569h3v3h-3zM840 569h3v3h-3zM852 569h3v3h-3zM864 569h3v3h-3zM876 569h3v3h-3zM888 569h3v3h-3zM900 569h3v3h-3zM912 569h3v3h-3zM924 569h3v3h-3zM936 569h3v3h-3zM948 569h3v3h-3zM960 569h3v3h-3zM972 569h3v3h-3zM984 569h3v3h-3zM996 569h3v3h-3zM1008 569h3v3h-3zM1020 569h3v3h-3zM1032 569h3v3h-3zM1044 569h3v3h-3zM1056 569h3v3h-3zM1068 569h3v3h-3zM1080 569h3v3h-3zM1092 569h3v3h-3zM1104 569h3v3h-3zM1116 569h3v3h-3zM1128 569h3v3h-3zM1140 569h3v3h-3zM1152 569h3v3h-3zM1164 569h3v3h-3zM1176 569h3v3h-3zM1188 569h3v3h-3zM1200 569h3v3h-3zM1212 569h3v3h-3zM1224 569h3v3h-3zM1236 569h3v3h-3zM1248 569h3v3h-3zM1260 569h3v3h-3zM1272 569h3v3h-3zM1284 569h3v3h-3zM1296 569h3v3h-3zM1308 569h3v3h-3zM1320 569h3v3h-3zM1332 569h3v3h-3zM1344 569h3v3h-3zM1356 569h3v3h-3zM1368 569h3v3h-3zM1380 569h3v3h-3zM1392 569h3v3h-3zM1404 569h3v3h-3zM1416 569h3v3h-3zM1428 569h3v3h-3zM1440 569h3v3h-3zM1452 569h3v3h-3zM1464 569h3v3h-3zM1476 569h3v3h-3zM1488 569h3v3h-3zM1500 569h3v3h-3zM1512 569h3v3h-3zM1524 569h3v3h-3zM1536 569h3v3h-3zM1548 569h3v3h-3zM1560 569h3v3h-3zM1572 569h3v3h-3zM1584 569h3v3h-3zM1596 569h3v3h-3zM1608 569h3v3h-3zM1620 569h3v3h-3zM1632 569h3v3h-3zM1644 569h3v3h-3zM1656 569h3v3h-3zM1668 569h3v3h-3zM1680 569h3v3h-3zM1692 569h3v3h-3zM1704 569h3v3h-3zM1716 569h3v3h-3zM1728 569h3v3h-3zM1740 569h3v3h-3zM1752 569h3v3h-3zM1764 569h3v3h-3zM1776 569h3v3h-3zM1788 569h3v3h-3zM1800 569h3v3h-3zM1812 569h3v3h-3zM1824 569h3v3h-3zM1836 569h3v3h-3zM1848 569h3v3h-3zM1860 569h3v3h-3zM1872 569h3v3h-3zM1884 569h3v3h-3zM1896 569h3v3h-3zM1908 569h3v3h-3zM1920 569h3v3h-3zM1932 569h3v3h-3zM1944 569h3v3h-3zM1956 569h3v3h-3zM1968 569h3v3h-3zM1980 569h3v3h-3zM1992 569h3v3h-3zM2004 569h3v3h-3zM2016 569h3v3h-3zM2028 569h3v3h-3zM2040 569h3v3h-3zM2052 569h3v3h-3zM2064 569h3v3h-3zM2076 569h3v3h-3zM2088 569h3v3h-3zM468 666h3v3h-3zM480 666h3v3h-3zM492 666h3v3h-3zM504 666h3v3h-3zM516 666h3v3h-3zM528 666h3v3h-3zM540 666h3v3h-3zM552 666h3v3h-3zM564 666h3v3h-3zM576 666h3v3h-3zM588 666h3v3h-3zM600 666h3v3h-3zM612 666h3v3h-3zM624 666h3v3h-3zM636 666h3v3h-3zM648 666h3v3h-3zM660 666h3v3h-3zM672 666h3v3h-3zM684 666h3v3h-3zM696 666h3v3h-3zM708 666h3v3h-3zM720 666h3v3h-3zM732 666h3v3h-3zM744 666h3v3h-3zM756 666h3v3h-3zM768 666h3v3h-3zM780 666h3v3h-3zM792 666h3v3h-3zM804 666h3v3h-3zM816 666h3v3h-3zM828 666h3v3h-3zM840 666h3v3h-3zM852 666h3v3h-3zM864 666h3v3h-3zM876 666h3v3h-3zM888 666h3v3h-3zM900 666h3v3h-3zM912 666h3v3h-3zM924 666h3v3h-3zM936 666h3v3h-3zM948 666h3v3h-3zM960 666h3v3h-3zM972 666h3v3h-3zM984 666h3v3h-3zM996 666h3v3h-3zM1008 666h3v3h-3zM1020 666h3v3h-3zM1032 666h3v3h-3zM1044 666h3v3h-3zM1056 666h3v3h-3zM1068 666h3v3h-3zM1080 666h3v3h-3zM1092 666h3v3h-3zM1104 666h3v3h-3zM1116 666h3v3h-3zM1128 666h3v3h-3zM1140 666h3v3h-3zM1152 666h3v3h-3zM1164 666h3v3h-3zM1176 666h3v3h-3zM1188 666h3v3h-3zM1200 666h3v3h-3zM1212 666h3v3h-3zM1224 666h3v3h-3zM1236 666h3v3h-3zM1248 666h3v3h-3zM1260 666h3v3h-3zM1272 666h3v3h-3zM1284 666h3v3h-3zM1296 666h3v3h-3zM1308 666h3v3h-3zM1320 666h3v3h-3zM1332 666h3v3h-3zM1344 666h3v3h-3zM1356 666h3v3h-3zM1368 666h3v3h-3zM1380 666h3v3h-3zM1392 666h3v3h-3zM1404 666h3v3h-3zM1416 666h3v3h-3zM1428 666h3v3h-3zM1440 666h3v3h-3zM1452 666h3v3h-3zM1464 666h3v3h-3zM1476 666h3v3h-3zM1488 666h3v3h-3zM1500 666h3v3h-3zM1512 666h3v3h-3zM1524 666h3v3h-3zM1536 666h3v3h-3zM1548 666h3v3h-3zM1560 666h3v3h-3zM1572 666h3v3h-3zM1584 666h3v3h-3zM1596 666h3v3h-3zM1608 666h3v3h-3zM1620 666h3v3h-3zM1632 666h3v3h-3zM1644 666h3v3h-3zM1656 666h3v3h-3zM1668 666h3v3h-3zM1680 666h3v3h-3zM1692 666h3v3h-3zM1704 666h3v3h-3zM1716 666h3v3h-3zM1728 666h3v3h-3zM1740 666h3v3h-3zM1752 666h3v3h-3zM1764 666h3v3h-3zM1776 666h3v3h-3zM1788 666h3v3h-3zM1800 666h3v3h-3zM1812 666h3v3h-3zM1824 666h3v3h-3zM1836 666h3v3h-3zM1848 666h3v3h-3zM1860 666h3v3h-3zM1872 666h3v3h-3zM1884 666h3v3h-3zM1896 666h3v3h-3zM1908 666h3v3h-3zM1920 666h3v3h-3zM1932 666h3v3h-3zM1944 666h3v3h-3zM1956 666h3v3h-3zM1968 666h3v3h-3zM1980 666h3v3h-3zM1992 666h3v3h-3zM2004 666h3v3h-3zM2016 666h3v3h-3zM2028 666h3v3h-3zM2040 666h3v3h-3zM2052 666h3v3h-3zM2064 666h3v3h-3zM2076 666h3v3h-3zM2088 666h3v3h-3zM468 763h3v3h-3zM480 763h3v3h-3zM492 763h3v3h-3zM504 763h3v3h-3zM516 763h3v3h-3zM528 763h3v3h-3zM540 763h3v3h-3zM552 763h3v3h-3zM564 763h3v3h-3zM576 763h3v3h-3zM588 763h3v3h-3zM600 763h3v3h-3zM612 763h3v3h-3zM624 763h3v3h-3zM636 763h3v3h-3zM648 763h3v3h-3zM660 763h3v3h-3zM672 763h3v3h-3zM684 763h3v3h-3zM696 763h3v3h-3zM708 763h3v3h-3zM720 763h3v3h-3zM732 763h3v3h-3zM744 763h3v3h-3zM756 763h3v3h-3zM768 763h3v3h-3zM780 763h3v3h-3zM792 763h3v3h-3zM804 763h3v3h-3zM816 763h3v3h-3zM828 763h3v3h-3zM840 763h3v3h-3zM852 763h3v3h-3zM864 763h3v3h-3zM876 763h3v3h-3zM888 763h3v3h-3zM900 763h3v3h-3zM912 763h3v3h-3zM924 763h3v3h-3zM936 763h3v3h-3zM948 763h3v3h-3zM960 763h3v3h-3zM972 763h3v3h-3zM984 763h3v3h-3zM996 763h3v3h-3zM1008 763h3v3h-3zM1020 763h3v3h-3zM1032 763h3v3h-3zM1044 763h3v3h-3zM1056 763h3v3h-3zM1068 763h3v3h-3zM1080 763h3v3h-3zM1092 763h3v3h-3zM1104 763h3v3h-3zM1116 763h3v3h-3zM1128 763h3v3h-3zM1140 763h3v3h-3zM1152 763h3v3h-3zM1164 763h3v3h-3zM1176 763h3v3h-3zM1188 763h3v3h-3zM1200 763h3v3h-3zM1212 763h3v3h-3zM1224 763h3v3h-3zM1236 763h3v3h-3zM1248 763h3v3h-3zM1260 763h3v3h-3zM1272 763h3v3h-3zM1284 763h3v3h-3zM1296 763h3v3h-3zM1308 763h3v3h-3zM1320 763h3v3h-3zM1332 763h3v3h-3zM1344 763h3v3h-3zM1356 763h3v3h-3zM1368 763h3v3h-3zM1380 763h3v3h-3zM1392 763h3v3h-3zM1404 763h3v3h-3zM1416 763h3v3h-3zM1428 763h3v3h-3zM1440 763h3v3h-3zM1452 763h3v3h-3zM1464 763h3v3h-3zM1476 763h3v3h-3zM1488 763h3v3h-3zM1500 763h3v3h-3zM1512 763h3v3h-3zM1524 763h3v3h-3zM1536 763h3v3h-3zM1548 763h3v3h-3zM1560 763h3v3h-3zM1572 763h3v3h-3zM1584 763h3v3h-3zM1596 763h3v3h-3zM1608 763h3v3h-3zM1620 763h3v3h-3zM1632 763h3v3h-3zM1644 763h3v3h-3zM1656 763h3v3h-3zM1668 763h3v3h-3zM1680 763h3v3h-3zM1692 763h3v3h-3zM1704 763h3v3h-3zM1716 763h3v3h-3zM1728 763h3v3h-3zM1740 763h3v3h-3zM1752 763h3v3h-3zM1764 763h3v3h-3zM1776 763h3v3h-3zM1788 763h3v3h-3zM1800 763h3v3h-3zM1812 763h3v3h-3zM1824 763h3v3h-3zM1836 763h3v3h-3zM1848 763h3v3h-3zM1860 763h3v3h-3zM1872 763h3v3h-3zM1884 763h3v3h-3zM1896 763h3v3h-3zM1908 763h3v3h-3zM1920 763h3v3h-3zM1932 763h3v3h-3zM1944 763h3v3h-3zM1956 763h3v3h-3zM1968 763h3v3h-3zM1980 763h3v3h-3zM1992 763h3v3h-3zM2004 763h3v3h-3zM2016 763h3v3h-3zM2028 763h3v3h-3zM2040 763h3v3h-3zM2052 763h3v3h-3zM2064 763h3v3h-3zM2076 763h3v3h-3zM2088 763h3v3h-3zM468 860h3v3h-3zM480 860h3v3h-3zM492 860h3v3h-3zM504 860h3v3h-3zM516 860h3v3h-3zM528 860h3v3h-3zM540 860h3v3h-3zM552 860h3v3h-3zM564 860h3v3h-3zM576 860h3v3h-3zM588 860h3v3h-3zM600 860h3v3h-3zM612 860h3v3h-3zM624 860h3v3h-3zM636 860h3v3h-3zM648 860h3v3h-3zM660 860h3v3h-3zM672 860h3v3h-3zM684 860h3v3h-3zM696 860h3v3h-3zM708 860h3v3h-3zM720 860h3v3h-3zM732 860h3v3h-3zM744 860h3v3h-3zM756 860h3v3h-3zM768 860h3v3h-3zM780 860h3v3h-3zM792 860h3v3h-3zM804 860h3v3h-3zM816 860h3v3h-3zM828 860h3v3h-3zM840 860h3v3h-3zM852 860h3v3h-3zM864 860h3v3h-3zM876 860h3v3h-3zM888 860h3v3h-3zM900 860h3v3h-3zM912 860h3v3h-3zM924 860h3v3h-3zM936 860h3v3h-3zM948 860h3v3h-3zM960 860h3v3h-3zM972 860h3v3h-3zM984 860h3v3h-3zM996 860h3v3h-3zM1008 860h3v3h-3zM1020 860h3v3h-3zM1032 860h3v3h-3zM1044 860h3v3h-3zM1056 860h3v3h-3zM1068 860h3v3h-3zM1080 860h3v3h-3zM1092 860h3v3h-3zM1104 860h3v3h-3zM1116 860h3v3h-3zM1128 860h3v3h-3zM1140 860h3v3h-3zM1152 860h3v3h-3zM1164 860h3v3h-3zM1176 860h3v3h-3zM1188 860h3v3h-3zM1200 860h3v3h-3zM1212 860h3v3h-3zM1224 860h3v3h-3zM1236 860h3v3h-3zM1248 860h3v3h-3zM1260 860h3v3h-3zM1272 860h3v3h-3zM1284 860h3v3h-3zM1296 860h3v3h-3zM1308 860h3v3h-3zM1320 860h3v3h-3zM1332 860h3v3h-3zM1344 860h3v3h-3zM1356 860h3v3h-3zM1368 860h3v3h-3zM1380 860h3v3h-3zM1392 860h3v3h-3zM1404 860h3v3h-3zM1416 860h3v3h-3zM1428 860h3v3h-3zM1440 860h3v3h-3zM1452 860h3v3h-3zM1464 860h3v3h-3zM1476 860h3v3h-3zM1488 860h3v3h-3zM1500 860h3v3h-3zM1512 860h3v3h-3zM1524 860h3v3h-3zM1536 860h3v3h-3zM1548 860h3v3h-3zM1560 860h3v3h-3zM1572 860h3v3h-3zM1584 860h3v3h-3zM1596 860h3v3h-3zM1608 860h3v3h-3zM1620 860h3v3h-3zM1632 860h3v3h-3zM1644 860h3v3h-3zM1656 860h3v3h-3zM1668 860h3v3h-3zM1680 860h3v3h-3zM1692 860h3v3h-3zM1704 860h3v3h-3zM1716 860h3v3h-3zM1728 860h3v3h-3zM1740 860h3v3h-3zM1752 860h3v3h-3zM1764 860h3v3h-3zM1776 860h3v3h-3zM1788 860h3v3h-3zM1800 860h3v3h-3zM1812 860h3v3h-3zM1824 860h3v3h-3zM1836 860h3v3h-3zM1848 860h3v3h-3zM1860 860h3v3h-3zM1872 860h3v3h-3zM1884 860h3v3h-3zM1896 860h3v3h-3zM1908 860h3v3h-3zM1920 860h3v3h-3zM1932 860h3v3h-3zM1944 860h3v3h-3zM1956 860h3v3h-3zM1968 860h3v3h-3zM1980 860h3v3h-3zM1992 860h3v3h-3zM2004 860h3v3h-3zM2016 860h3v3h-3zM2028 860h3v3h-3zM2040 860h3v3h-3zM2052 860h3v3h-3zM2064 860h3v3h-3zM2076 860h3v3h-3zM2088 860h3v3h-3z" fill="#000" shape-rendering="crispEdges"/>
<rect x="587" y="379" width="443" height="34" fill="#000"/>
<rect x="592" y="384" width="433" height="24" fill="#fff"/>
<text x="593" y="402.8" font-size="24.0" text-anchor="start">Hyd Cyl Retracted Position @ 150 bars</text>
<rect x="1347" y="336" width="553" height="33" fill="#000"/>
<rect x="1350" y="339" width="547" height="27" fill="#fff"/>
<text x="1352.3" y="359.8" font-size="24.05" text-anchor="start">Hydraulic Cylinder Extended Position @ 150 bars</text>
<polyline fill="none" stroke="#F28C12" stroke-width="2.8" stroke-linejoin="round" points="457,600.97 458.0,601.02 459.0,600.89 460.0,601.12 461.0,601.19 462.0,601.19 463.0,600.78 464.0,600.92 465.0,601.26 466.0,600.97 467.0,600.97 468.0,600.84 469.0,600.65 470.0,601.55 471.0,601.59 472.0,601.01 473.0,601.05 474.0,601.1 475.0,599.93 476.0,598.91 477.0,597.8 478.0,596.28 479.0,595.85 480.0,595.03 481.0,594.71 482.0,594.31 483.0,593.58 484.0,592.9 485.0,592.46 486.0,592.27 487.0,591.86 488.0,591.74 489.0,592.01 490.0,591.26 491.0,590.87 492.0,591.25 493.0,591.14 494.0,590.79 495.0,589.97 496.0,590.65 497.0,590.1 498.0,589.91 499.0,590.41 500.0,590.21 501.0,589.36 502.0,590.2 503.0,589.94 504.0,590.02 505.0,589.95 506.0,590.57 507.0,590.36 508.0,590.87 509.0,590.25 510.0,590.48 511.0,590.4 512.0,590.67 513.0,590.68 514.0,590.56 515.0,590.5 516.0,590.6 517.0,590.4 518.0,590.8 519.0,590.64 520.0,590.47 521.0,590.41 522.0,590.78 523.0,590.62 524.0,591.26 525.0,590.95 526.0,590.9 527.0,591.19 528.0,591.0 529.0,591.05 530.0,591.91 531.0,591.58 532.0,591.58 533.0,591.56 534.0,591.86 535.0,591.77 536.0,591.44 537.0,592.02 538.0,591.96 539.0,592.14 540.0,591.94 541.0,592.37 542.0,592.37 543.0,592.18 544.0,592.31 545.0,592.37 546.0,592.62 547.0,592.24 548.0,592.86 549.0,592.07 550.0,592.34 551.0,592.51 552.0,592.38 553.0,592.58 554.0,592.44 555.0,592.36 556.0,592.23 557.0,592.67 558.0,592.69 559.0,592.59 560.0,593.21 561.0,592.94 562.0,592.91 563.0,593.17 564.0,593.46 565.0,593.22 566.0,593.18 567.0,593.12 568.0,593.49 569.0,593.17 570.0,593.96 571.0,593.46 572.0,593.05 573.0,593.49 574.0,593.84 575.0,594.32 576.0,595.26 577.0,595.66 578.0,596.33 579.0,596.86 580.0,597.29 581.0,596.94 582.0,597.37 583.0,597.65 584.0,597.64 585.0,597.43 586.0,597.79 587.0,597.75 588.0,597.72 589.0,597.79 590.0,597.96 591.0,597.28 592.0,597.45 593.0,597.2 594.0,597.56 595.0,597.91 596.0,597.37 597.0,597.85 598.0,597.64 599.0,597.6 600.0,597.71 601.0,597.56 602.0,597.58 603.0,597.65 604.0,597.38 605.0,597.52 606.0,597.79 607.0,597.49 608.0,597.36 609.0,597.71 610.0,597.29 611.0,597.23 612.0,597.5 613.0,597.71 614.0,597.51 615.0,597.53 616.0,597.12 617.0,597.37 618.0,597.71 619.0,597.32 620.0,597.26 621.0,597.58 622.0,597.43 623.0,597.34 624.0,597.08 625.0,597.42 626.0,597.42 627.0,597.35 628.0,597.41 629.0,597.85 630.0,597.89 631.0,597.08 632.0,597.35 633.0,597.53 634.0,597.58 635.0,597.74 636.0,597.54 637.0,597.72 638.0,597.26 639.0,597.69 640.0,597.65 641.0,597.4 642.0,597.17 643.0,598.8 644.0,597.7 645.0,597.1 646.0,597.15 647.0,597.53 648.0,597.6 649.0,597.44 650.0,597.41 651.0,597.41 652.0,597.29 653.0,597.49 654.0,598.03 655.0,598.05 656.0,597.33 657.0,597.99 658.0,597.45 659.0,597.3 660.0,597.77 661.0,597.4 662.0,597.27 663.0,597.53 664.0,597.12 665.0,597.18 666.0,597.99 667.0,597.61 668.0,597.74 669.0,597.22 670.0,597.58 671.0,597.67 672.0,597.55 673.0,597.4 674.0,597.23 675.0,597.51 676.0,597.91 677.0,597.39 678.0,597.62 679.0,597.42 680.0,597.4 681.0,597.34 682.0,597.23 683.0,597.9 684.0,597.41 685.0,597.51 686.0,597.65 687.0,597.5 688.0,597.16 689.0,597.63 690.0,597.16 691.0,597.59 692.0,597.19 693.0,597.43 694.0,597.7 695.0,597.3 696.0,597.32 697.0,597.17 698.0,597.55 699.0,598.05 700.0,597.5 701.0,597.63 702.0,597.06 703.0,597.74 704.0,597.76 705.0,598.1 706.0,597.55 707.0,597.59 708.0,597.31 709.0,597.35 710.0,597.38 711.0,597.42 712.0,597.4 713.0,597.38 714.0,597.58 715.0,597.29 716.0,597.19 717.0,597.36 718.0,597.56 719.0,597.71 720.0,597.38 721.0,597.75 722.0,597.41 723.0,597.4 724.0,597.41 725.0,597.29 726.0,597.6 727.0,597.49 728.0,597.67 729.0,597.08 730.0,597.83 731.0,597.8 732.0,597.49 733.0,597.31 734.0,597.59 735.0,597.33 736.0,596.9 737.0,597.89 738.0,597.49 739.0,597.21 740.0,597.08 741.0,597.51 742.0,597.51 743.0,597.76 744.0,597.34 745.0,597.05 746.0,597.7 747.0,597.43 748.0,597.67 749.0,597.05 750.0,597.48 751.0,597.42 752.0,597.67 753.0,597.88 754.0,597.35 755.0,597.36 756.0,597.23 757.0,596.83 758.0,597.6 759.0,597.1 760.0,597.61 761.0,597.24 762.0,597.86 763.0,597.67 764.0,597.47 765.0,597.48 766.0,596.78 767.0,597.64 768.0,597.69 769.0,597.8 770.0,597.49 771.0,597.58 772.0,597.91 773.0,597.6 774.0,597.02 775.0,597.61 776.0,597.43 777.0,597.67 778.0,597.09 779.0,597.25 780.0,596.8 781.0,596.81 782.0,597.35 783.0,597.53 784.0,597.49 785.0,597.29 786.0,597.65 787.0,597.28 788.0,597.22 789.0,597.29 790.0,597.45 791.0,597.93 792.0,597.84 793.0,597.17 794.0,597.77 795.0,597.44 796.0,596.99 797.0,597.59 798.0,596.92 799.0,597.37 800.0,597.35 801.0,597.4 802.0,597.49 803.0,597.8 804.0,597.39 805.0,597.17 806.0,596.92 807.0,597.58 808.0,597.51 809.0,597.18 810.0,597.81 811.0,597.51 812.0,597.76 813.0,597.77 814.0,597.06 815.0,597.62 816.0,597.23 817.0,598.02 818.0,597.18 819.0,597.73 820.0,597.2 821.0,597.78 822.0,597.34 823.0,596.87 824.0,597.62 825.0,596.12 826.0,597.28 827.0,597.3 828.0,597.55 829.0,597.48 830.0,597.24 831.0,597.76 832.0,597.39 833.0,597.17 834.0,597.89 835.0,597.39 836.0,597.26 837.0,597.45 838.0,597.28 839.0,597.14 840.0,596.92 841.0,597.48 842.0,597.27 843.0,596.97 844.0,597.34 845.0,597.16 846.0,597.07 847.0,597.11 848.0,596.95 849.0,597.31 850.0,597.26 851.0,597.29 852.0,597.5 853.0,598.26 854.0,597.93 855.0,597.47 856.0,597.35 857.0,597.55 858.0,597.48 859.0,597.15 860.0,597.53 861.0,597.54 862.0,596.36 863.0,597.45 864.0,597.21 865.0,596.91 866.0,597.2 867.0,597.36 868.0,597.31 869.0,597.91 870.0,596.72 871.0,597.32 872.0,597.22 873.0,597.34 874.0,597.52 875.0,597.1 876.0,597.52 877.0,597.44 878.0,597.15 879.0,597.63 880.0,597.59 881.0,597.7 882.0,597.32 883.0,597.34 884.0,596.95 885.0,596.91 886.0,597.68 887.0,596.86 888.0,597.4 889.0,597.54 890.0,597.18 891.0,597.33 892.0,597.81 893.0,597.22 894.0,596.75 895.0,597.71 896.0,597.56 897.0,597.27 898.0,597.5 899.0,597.16 900.0,596.88 901.0,597.46 902.0,597.4 903.0,597.08 904.0,597.25 905.0,597.17 906.0,597.22 907.0,597.3 908.0,597.06 909.0,597.7 910.0,597.12 911.0,597.05 912.0,597.6 913.0,597.06 914.0,596.85 915.0,597.24 916.0,597.45 917.0,597.23 918.0,597.5 919.0,597.71 920.0,597.23 921.0,597.79 922.0,597.04 923.0,597.76 924.0,596.78 925.0,597.01 926.0,597.72 927.0,597.33 928.0,597.31 929.0,597.43 930.0,597.45 931.0,597.16 932.0,597.31 933.0,596.78 934.0,597.14 935.0,597.65 936.0,597.42 937.0,597.55 938.0,597.3 939.0,597.73 940.0,597.41 941.0,597.19 942.0,597.53 943.0,597.09 944.0,597.27 945.0,597.23 946.0,597.19 947.0,597.89 948.0,597.56 949.0,597.35 950.0,597.0 951.0,597.26 952.0,596.6 953.0,597.42 954.0,597.26 955.0,597.27 956.0,597.45 957.0,597.62 958.0,597.15 959.0,597.21 960.0,597.59 961.0,597.15 962.0,597.23 963.0,597.28 964.0,597.12 965.0,597.33 966.0,597.27 967.0,597.24 968.0,597.53 969.0,597.17 970.0,597.55 971.0,597.31 972.0,597.34 973.0,597.34 974.0,597.15 975.0,596.88 976.0,597.2 977.0,596.99 978.0,597.09 979.0,597.42 980.0,597.29 981.0,597.14 982.0,597.18 983.0,597.17 984.0,597.11 985.0,597.35 986.0,597.12 987.0,597.28 988.0,596.84 989.0,597.7 990.0,597.13 991.0,597.54 992.0,597.09 993.0,597.22 994.0,597.27 995.0,596.86 996.0,596.86 997.0,597.25 998.0,597.19 999.0,597.34 1000.0,597.25 1001.0,597.57 1002.0,596.92 1003.0,597.31 1004.0,597.5 1005.0,597.49 1006.0,597.53 1007.0,596.91 1008.0,597.77 1009.0,597.2 1010.0,597.34 1011.0,597.18 1012.0,597.38 1013.0,597.02 1014.0,597.17 1015.0,597.34 1016.0,596.96 1017.0,597.47 1018.0,597.43 1019.0,597.19 1020.0,597.71 1021.0,597.54 1022.0,597.56 1023.0,597.23 1024.0,596.94 1025.0,597.81 1026.0,596.98 1027.0,597.39 1028.0,597.61 1029.0,596.96 1030.0,597.35 1031.0,597.03 1032.0,597.5 1033.0,597.51 1034.0,597.19 1035.0,597.3 1036.0,597.68 1037.0,597.49 1038.0,597.14 1039.0,597.35 1040.0,597.24 1041.0,597.19 1042.0,597.48 1043.0,597.29 1044.0,596.98 1045.0,597.96 1046.0,596.79 1047.0,597.2 1048.0,597.69 1049.0,597.43 1050.0,597.39 1051.0,597.5 1052.0,597.17 1053.0,597.33 1054.0,597.02 1055.0,597.7 1056.0,597.58 1057.0,597.34 1058.0,597.54 1059.0,597.51 1060.0,596.95 1061.0,597.45 1062.0,597.37 1063.0,597.15 1064.0,596.02 1065.0,597.29 1066.0,597.1 1067.0,597.33 1068.0,598.36 1069.0,597.29 1070.0,597.5 1071.0,597.26 1072.0,597.32 1073.0,597.0 1074.0,597.11 1075.0,597.45 1076.0,597.52 1077.0,597.01 1078.0,597.24 1079.0,597.27 1080.0,597.35 1081.0,596.94 1082.0,597.49 1083.0,596.72 1084.0,597.15 1085.0,597.0 1086.0,597.26 1087.0,597.42 1088.0,597.05 1089.0,597.18 1090.0,597.05 1091.0,597.07 1092.0,597.21 1093.0,597.42 1094.0,597.35 1095.0,597.62 1096.0,597.05 1097.0,597.19 1098.0,597.24 1099.0,597.14 1100.0,597.86 1101.0,597.02 1102.0,597.31 1103.0,597.28 1104.0,596.9 1105.0,597.6 1106.0,596.84 1107.0,597.44 1108.0,597.34 1109.0,597.31 1110.0,597.31 1111.0,597.54 1112.0,596.78 1113.0,597.16 1114.0,597.5 1115.0,596.95 1116.0,597.3 1117.0,597.48 1118.0,597.57 1119.0,597.37 1120.0,597.34 1121.0,597.52 1122.0,597.19 1123.0,597.51 1124.0,597.49 1125.0,597.33 1126.0,596.98 1127.0,597.5 1128.0,596.88 1129.0,596.77 1130.0,597.29 1131.0,597.58 1132.0,597.41 1133.0,597.1 1134.0,597.51 1135.0,597.43 1136.0,597.22 1137.0,597.58 1138.0,597.31 1139.0,597.34 1140.0,597.27 1141.0,597.23 1142.0,597.35 1143.0,597.51 1144.0,597.34 1145.0,597.19 1146.0,597.28 1147.0,597.18 1148.0,597.06 1149.0,596.77 1150.0,597.31 1151.0,597.38 1152.0,597.1 1153.0,597.15 1154.0,597.64 1155.0,597.02 1156.0,597.33 1157.0,597.39 1158.0,596.94 1159.0,597.07 1160.0,596.93 1161.0,597.11 1162.0,597.36 1163.0,597.85 1164.0,597.06 1165.0,597.07 1166.0,597.37 1167.0,597.28 1168.0,596.92 1169.0,597.52 1170.0,596.96 1171.0,597.39 1172.0,596.92 1173.0,596.75 1174.0,597.37 1175.0,597.19 1176.0,597.04 1177.0,597.32 1178.0,597.28 1179.0,597.23 1180.0,597.52 1181.0,597.13 1182.0,597.01 1183.0,597.21 1184.0,597.13 1185.0,597.08 1186.0,597.02 1187.0,597.51 1188.0,597.01 1189.0,597.19 1190.0,596.99 1191.0,596.76 1192.0,597.43 1193.0,597.3 1194.0,597.06 1195.0,597.14 1196.0,597.48 1197.0,597.35 1198.0,597.34 1199.0,597.51 1200.0,597.43 1201.0,597.52 1202.0,597.12 1203.0,596.88 1204.0,597.01 1205.0,596.96 1206.0,597.67 1207.0,597.11 1208.0,597.16 1209.0,597.27 1210.0,597.09 1211.0,597.92 1212.0,597.1 1213.0,597.38 1214.0,597.29 1215.0,597.18 1216.0,597.15 1217.0,596.98 1218.0,597.35 1219.0,597.18 1220.0,596.81 1221.0,597.36 1222.0,597.06 1223.0,597.25 1224.0,597.61 1225.0,597.23 1226.0,596.99 1227.0,597.09 1228.0,597.5 1229.0,597.4 1230.0,596.83 1231.0,596.99 1232.0,597.34 1233.0,597.52 1234.0,597.56 1235.0,597.32 1236.0,596.84 1237.0,597.49 1238.0,597.09 1239.0,596.98 1240.0,597.78 1241.0,597.23 1242.0,596.76 1243.0,597.49 1244.0,597.05 1245.0,597.45 1246.0,597.3 1247.0,596.77 1248.0,597.49 1249.0,597.16 1250.0,597.3 1251.0,597.0 1252.0,597.43 1253.0,597.15 1254.0,597.24 1255.0,597.23 1256.0,596.98 1257.0,597.35 1258.0,597.26 1259.0,596.78 1260.0,597.35 1261.0,597.27 1262.0,597.14 1263.0,597.34 1264.0,596.95 1265.0,597.14 1266.0,596.86 1267.0,597.34 1268.0,597.6 1269.0,597.47 1270.0,597.11 1271.0,597.17 1272.0,597.75 1273.0,597.11 1274.0,596.97 1275.0,597.12 1276.0,597.38 1277.0,597.38 1278.0,596.82 1279.0,597.17 1280.0,596.97 1281.0,596.82 1282.0,597.01 1283.0,596.78 1284.0,597.1 1285.0,597.46 1286.0,597.15 1287.0,596.77 1288.0,597.63 1289.0,597.01 1290.0,596.82 1291.0,596.96 1292.0,597.17 1293.0,596.69 1294.0,597.72 1295.0,597.1 1296.0,597.06 1297.0,597.43 1298.0,596.81 1299.0,597.13 1300.0,597.1 1301.0,597.2 1302.0,596.99 1303.0,596.92 1304.0,596.89 1305.0,596.98 1306.0,597.21 1307.0,597.31 1308.0,597.08 1309.0,597.55 1310.0,597.38 1311.0,597.41 1312.0,597.04 1313.0,596.89 1314.0,597.18 1315.0,596.92 1316.0,597.16 1317.0,596.89 1318.0,597.16 1319.0,597.35 1320.0,596.81 1321.0,597.26 1322.0,596.92 1323.0,596.83 1324.0,597.04 1325.0,597.15 1326.0,597.24 1327.0,596.94 1328.0,597.46 1329.0,597.26 1330.0,597.46 1331.0,596.84 1332.0,597.32 1333.0,596.81 1334.0,597.0 1335.0,597.32 1336.0,596.99 1337.0,596.95 1338.0,597.15 1339.0,596.91 1340.0,596.63 1341.0,596.42 1342.0,597.15 1343.0,597.19 1344.0,596.9 1345.0,597.18 1346.0,597.25 1347.0,597.33 1348.0,597.1 1349.0,596.69 1350.0,597.18 1351.0,596.62 1352.0,597.25 1353.0,596.79 1354.0,597.21 1355.0,597.1 1356.0,597.22 1357.0,597.75 1358.0,596.77 1359.0,596.38 1360.0,596.85 1361.0,597.14 1362.0,597.24 1363.0,596.9 1364.0,597.1 1365.0,597.48 1366.0,597.17 1367.0,596.99 1368.0,597.06 1369.0,597.32 1370.0,596.97 1371.0,597.11 1372.0,597.25 1373.0,596.9 1374.0,597.2 1375.0,596.64 1376.0,597.19 1377.0,596.86 1378.0,596.95 1379.0,597.28 1380.0,597.2 1381.0,597.07 1382.0,597.11 1383.0,597.19 1384.0,597.16 1385.0,597.15 1386.0,597.09 1387.0,596.84 1388.0,596.91 1389.0,597.4 1390.0,596.88 1391.0,597.05 1392.0,597.26 1393.0,596.86 1394.0,596.71 1395.0,596.9 1396.0,597.41 1397.0,596.99 1398.0,596.77 1399.0,597.02 1400.0,597.32 1401.0,597.09 1402.0,597.31 1403.0,596.88 1404.0,597.3 1405.0,596.86 1406.0,596.83 1407.0,597.12 1408.0,596.64 1409.0,597.29 1410.0,597.29 1411.0,597.09 1412.0,597.38 1413.0,597.97 1414.0,597.49 1415.0,597.13 1416.0,596.95 1417.0,596.84 1418.0,596.82 1419.0,596.89 1420.0,597.59 1421.0,597.25 1422.0,597.14 1423.0,596.88 1424.0,597.06 1425.0,596.64 1426.0,597.23 1427.0,597.26 1428.0,597.22 1429.0,597.03 1430.0,597.4 1431.0,597.26 1432.0,597.14 1433.0,597.08 1434.0,597.15 1435.0,597.05 1436.0,596.89 1437.0,597.09 1438.0,597.19 1439.0,597.06 1440.0,597.26 1441.0,597.33 1442.0,597.33 1443.0,597.53 1444.0,597.29 1445.0,596.96 1446.0,596.77 1447.0,596.78 1448.0,597.2 1449.0,597.34 1450.0,597.36 1451.0,597.06 1452.0,596.61 1453.0,596.72 1454.0,597.11 1455.0,596.92 1456.0,596.8 1457.0,596.83 1458.0,596.73 1459.0,597.3 1460.0,597.35 1461.0,597.27 1462.0,597.21 1463.0,596.97 1464.0,596.92 1465.0,596.94 1466.0,596.61 1467.0,596.8 1468.0,597.29 1469.0,597.21 1470.0,597.41 1471.0,597.38 1472.0,597.19 1473.0,596.84 1474.0,597.34 1475.0,597.08 1476.0,597.32 1477.0,597.01 1478.0,597.05 1479.0,597.23 1480.0,596.94 1481.0,597.14 1482.0,596.95 1483.0,596.86 1484.0,597.31 1485.0,597.58 1486.0,597.11 1487.0,596.67 1488.0,596.62 1489.0,597.16 1490.0,597.22 1491.0,597.52 1492.0,596.77 1493.0,596.77 1494.0,597.24 1495.0,597.41 1496.0,597.24 1497.0,597.23 1498.0,597.36 1499.0,597.06 1500.0,596.9 1501.0,597.08 1502.0,597.45 1503.0,597.29 1504.0,597.03 1505.0,596.79 1506.0,597.06 1507.0,598.31 1508.0,597.17 1509.0,596.98 1510.0,597.06 1511.0,597.1 1512.0,597.51 1513.0,597.23 1514.0,596.91 1515.0,596.68 1516.0,597.11 1517.0,597.3 1518.0,596.98 1519.0,597.48 1520.0,597.09 1521.0,597.19 1522.0,596.73 1523.0,596.79 1524.0,596.78 1525.0,596.95 1526.0,596.97 1527.0,596.61 1528.0,597.28 1529.0,597.31 1530.0,597.2 1531.0,597.31 1532.0,597.43 1533.0,597.41 1534.0,597.36 1535.0,597.29 1536.0,596.97 1537.0,596.75 1538.0,597.1 1539.0,597.25 1540.0,597.38 1541.0,596.8 1542.0,597.31 1543.0,596.97 1544.0,597.18 1545.0,597.34 1546.0,597.23 1547.0,597.32 1548.0,597.18 1549.0,596.86 1550.0,596.88 1551.0,597.0 1552.0,597.1 1553.0,597.22 1554.0,597.08 1555.0,596.6 1556.0,597.38 1557.0,596.94 1558.0,597.21 1559.0,597.06 1560.0,597.58 1561.0,597.36 1562.0,597.59 1563.0,597.53 1564.0,597.71 1565.0,597.62 1566.0,597.56 1567.0,598.08 1568.0,597.95 1569.0,597.84 1570.0,598.11 1571.0,598.4 1572.0,598.3 1573.0,599.08 1574.0,598.38 1575.0,598.88 1576.0,598.19 1577.0,598.81 1578.0,598.42 1579.0,598.48 1580.0,598.23 1581.0,598.3 1582.0,598.02 1583.0,598.57 1584.0,598.05 1585.0,598.04 1586.0,598.12 1587.0,598.27 1588.0,597.55 1589.0,597.87 1590.0,597.83 1591.0,597.66 1592.0,597.58 1593.0,597.67 1594.0,597.98 1595.0,597.37 1596.0,597.59 1597.0,597.45 1598.0,597.66 1599.0,598.03 1600.0,597.6 1601.0,597.27 1602.0,597.51 1603.0,597.42 1604.0,597.66 1605.0,597.14 1606.0,597.37 1607.0,597.74 1608.0,597.14 1609.0,597.32 1610.0,597.16 1611.0,597.47 1612.0,597.71 1613.0,597.21 1614.0,597.04 1615.0,597.77 1616.0,596.66 1617.0,597.0 1618.0,597.06 1619.0,597.38 1620.0,596.77 1621.0,596.98 1622.0,596.71 1623.0,596.49 1624.0,597.16 1625.0,597.03 1626.0,597.0 1627.0,596.88 1628.0,597.14 1629.0,596.76 1630.0,597.09 1631.0,597.12 1632.0,596.95 1633.0,597.16 1634.0,596.34 1635.0,597.12 1636.0,596.52 1637.0,597.15 1638.0,596.99 1639.0,597.3 1640.0,597.01 1641.0,596.78 1642.0,596.12 1643.0,596.3 1644.0,595.81 1645.0,595.79 1646.0,595.33 1647.0,594.88 1648.0,595.13 1649.0,594.97 1650.0,594.25 1651.0,594.37 1652.0,594.02 1653.0,593.67 1654.0,593.32 1655.0,593.06 1656.0,592.95 1657.0,593.07 1658.0,592.81 1659.0,592.94 1660.0,593.16 1661.0,592.71 1662.0,592.67 1663.0,592.67 1664.0,592.53 1665.0,592.88 1666.0,592.98 1667.0,592.62 1668.0,592.73 1669.0,593.1 1670.0,593.13 1671.0,592.58 1672.0,592.63 1673.0,592.89 1674.0,592.5 1675.0,592.57 1676.0,592.84 1677.0,592.78 1678.0,593.21 1679.0,593.02 1680.0,592.53 1681.0,593.11 1682.0,592.89 1683.0,593.05 1684.0,592.65 1685.0,592.87 1686.0,592.65 1687.0,592.32 1688.0,592.8 1689.0,593.09 1690.0,592.81 1691.0,592.95 1692.0,592.74 1693.0,592.35 1694.0,593.13 1695.0,592.54 1696.0,592.48 1697.0,592.32 1698.0,592.9 1699.0,592.85 1700.0,592.69 1701.0,592.76 1702.0,592.24 1703.0,592.9 1704.0,592.47 1705.0,593.05 1706.0,592.84 1707.0,593.21 1708.0,592.57 1709.0,593.07 1710.0,592.65 1711.0,592.91 1712.0,593.02 1713.0,593.26 1714.0,593.37 1715.0,593.24 1716.0,593.03 1717.0,593.11 1718.0,592.78 1719.0,593.18 1720.0,593.3 1721.0,593.38 1722.0,593.18 1723.0,593.18 1724.0,592.66 1725.0,593.12 1726.0,593.4 1727.0,592.77 1728.0,593.48 1729.0,593.48 1730.0,593.49 1731.0,595.23 1732.0,593.44 1733.0,593.28 1734.0,592.92 1735.0,593.26 1736.0,593.27 1737.0,593.82 1738.0,593.41 1739.0,593.58 1740.0,593.5 1741.0,593.66 1742.0,593.81 1743.0,593.77 1744.0,593.45 1745.0,594.17 1746.0,593.73 1747.0,593.7 1748.0,593.85 1749.0,593.46 1750.0,593.45 1751.0,593.69 1752.0,593.91 1753.0,593.79 1754.0,593.68 1755.0,594.01 1756.0,594.07 1757.0,594.13 1758.0,594.14 1759.0,594.33 1760.0,594.16 1761.0,593.56 1762.0,593.04 1763.0,594.3 1764.0,593.77 1765.0,594.06 1766.0,593.94 1767.0,593.94 1768.0,593.99 1769.0,594.26 1770.0,594.1 1771.0,594.06 1772.0,594.23 1773.0,594.22 1774.0,594.2 1775.0,594.13 1776.0,594.36 1777.0,594.08 1778.0,594.11 1779.0,594.79 1780.0,594.01 1781.0,594.33 1782.0,594.05 1783.0,594.65 1784.0,594.2 1785.0,594.38 1786.0,594.15 1787.0,594.56 1788.0,595.03 1789.0,594.15 1790.0,594.48 1791.0,594.93 1792.0,595.38 1793.0,595.96 1794.0,596.24 1795.0,596.24 1796.0,596.47 1797.0,597.52 1798.0,597.17 1799.0,597.62 1800.0,598.73 1801.0,597.08 1802.0,598.9 1803.0,598.52 1804.0,598.91 1805.0,598.36 1806.0,598.86 1807.0,598.82 1808.0,598.94 1809.0,598.91 1810.0,599.19 1811.0,599.22 1812.0,599.24 1813.0,599.7 1814.0,599.73 1815.0,599.55 1816.0,599.53 1817.0,599.54 1818.0,599.91 1819.0,599.77 1820.0,599.6 1821.0,599.31 1822.0,599.89 1823.0,599.69 1824.0,599.35 1825.0,599.69 1826.0,599.87 1827.0,599.69 1828.0,599.38 1829.0,599.16 1830.0,599.51 1831.0,599.46 1832.0,598.89"/>
<polyline fill="none" stroke="#0000D8" stroke-width="2.9" stroke-linejoin="round" points="457,948.79 457.5,950.17 458.0,950.15 458.5,949.12 459.0,948.54 459.5,949.05 460.0,949.98 460.5,950.07 461.0,950.61 461.5,948.94 462.0,949.4 462.5,950.17 463.0,949.21 463.5,949.66 464.0,948.82 464.5,949.11 465.0,948.57 465.5,950.39 466.0,950.1 466.5,948.38 467.0,949.03 467.5,949.44 468.0,949.03 469.5,946 469.5,402 470.3,395 471.5,391 473,389.5 473.5,389.74 473.84,387.76 474.18,388.4 474.52,388.82 474.86,387.56 475.2,390.52 475.54,387.82 475.88,389.44 476.22,388.28 476.56,387.78 476.9,388.22 477.24,390.0 477.58,388.27 477.92,387.79 478.26,393.2 478.6,391.25 478.94,389.48 479.28,390.81 479.62,387.46 479.96,389.29 480.3,390.06 480.64,390.55 480.98,388.77 481.32,390.56 481.66,380.85 482.0,389.43 482.34,390.21 482.68,389.61 483.02,389.85 483.36,387.73 483.7,389.06 484.04,386.82 484.38,388.84 484.72,387.92 485.06,387.61 485.4,387.05 485.74,387.86 486.08,388.92 486.42,388.22 486.76,389.31 487.1,390.9 487.44,388.59 487.78,389.48 488.12,389.3 488.46,386.42 488.8,387.43 489.14,388.34 489.48,387.78 489.82,389.43 490.16,390.83 490.5,389.92 490.84,389.23 491.18,389.06 491.52,390.61 491.86,388.08 492.2,389.65 492.54,389.08 492.88,387.92 493.22,386.77 493.56,389.57 493.9,389.69 494.24,387.61 494.58,387.65 494.92,388.56 495.26,382.84 495.6,388.8 495.94,388.75 496.28,389.4 496.62,392.24 496.96,386.69 497.3,389.09 497.64,388.8 497.98,388.35 498.32,386.83 498.66,388.49 499.0,388.01 499.34,390.83 499.68,388.36 500.02,390.35 500.36,387.0 500.7,389.87 501.04,389.81 501.38,387.92 501.72,386.65 502.06,388.59 502.4,393.41 502.74,389.81 503.08,388.66 503.42,388.67 503.76,389.89 504.1,389.08 504.44,389.36 504.78,387.48 505.12,388.31 505.46,387.76 505.8,386.57 506.14,388.29 506.48,389.47 506.82,388.18 507.16,388.17 507.5,387.76 507.84,391.14 508.18,395.43 508.52,387.1 508.86,386.71 509.2,388.48 509.54,389.41 509.88,387.88 510.22,388.92 510.56,388.67 510.9,387.94 511.24,388.78 511.58,389.66 511.92,388.68 512.26,388.83 512.6,390.06 512.94,388.85 513.28,387.98 513.62,386.83 513.96,391.18 514.3,384.95 514.64,389.55 514.98,390.91 515.32,390.88 515.66,387.48 516.0,388.39 516.34,387.28 516.68,389.4 517.02,388.47 517.36,385.06 517.7,389.05 518.04,389.9 518.38,389.93 518.72,388.22 519.06,389.38 519.4,388.71 519.74,388.89 520.08,387.16 520.42,386.08 520.76,391.24 521.1,390.07 521.44,390.05 521.78,389.28 522.12,389.04 522.46,387.58 522.8,388.49 523.14,388.34 523.48,388.25 523.82,388.1 524.16,389.06 524.5,389.49 524.84,388.58 525.18,387.51 525.52,388.45 525.86,389.27 526.2,388.64 526.54,390.78 526.88,389.09 527.22,388.19 527.56,389.89 527.9,388.95 528.24,388.67 528.58,389.56 528.92,387.8 529.26,388.59 529.6,390.99 529.94,388.3 530.28,388.87 530.62,383.7 530.96,387.98 531.3,389.23 531.64,388.38 531.98,390.04 532.32,391.4 532.66,389.84 533.0,388.22 533.34,390.45 533.68,388.3 534.02,390.06 534.36,388.63 534.7,388.92 535.04,389.28 535.38,390.67 535.72,388.38 536.06,388.77 536.4,389.7 536.74,388.88 537.08,391.85 537.42,390.14 537.76,388.76 538.1,388.66 538.44,387.28 538.78,389.24 539.12,390.01 539.46,391.2 539.8,389.94 540.14,389.25 540.48,388.11 540.82,389.83 541.16,387.28 541.5,386.89 541.84,389.83 542.18,389.38 542.52,390.01 542.86,386.73 543.2,382.53 543.54,389.49 543.88,389.17 544.22,389.16 544.56,389.26 544.9,388.67 545.24,388.63 545.58,388.36 545.92,388.37 546.26,389.46 546.6,390.25 546.94,389.13 547.28,389.89 547.62,387.63 547.96,390.11 548.3,389.22 548.64,389.06 548.98,387.48 549.32,390.42 549.66,390.62 550.0,391.01 550.34,388.04 550.68,387.42 551.02,385.56 551.36,387.96 551.7,389.36 552.04,387.46 552.38,389.24 552.72,387.54 553.06,389.31 553.4,388.47 553.74,389.61 554.08,390.06 554.42,387.53 554.76,390.21 555.1,387.99 555.44,393.31 555.78,387.66 556.12,389.99 556.46,388.62 556.8,388.33 557.14,389.29 557.48,390.2 557.82,389.96 558.16,388.83 558.5,389.1 558.84,389.9 559.18,389.51 559.52,387.6 559.86,388.89 560.2,387.4 560.54,388.22 560.88,390.37 561.22,388.34 561.56,383.43 561.9,390.31 562.24,389.2 562.58,384.68 562.92,389.61 563.26,389.02 563.6,388.6 563.94,388.05 564.28,389.13 564.62,388.08 564.96,388.46 565.3,390.18 565.64,388.93 565.98,388.11 566.32,391.03 566.66,387.42 567.0,388.96 567.34,387.7 568.8,389 569.3,400 569.6,925 571,938 572.7,944 574.3,936 575.0,915 575.6,909 577,907.5 577.5,909.09 577.84,909.31 578.18,906.6 578.52,910.37 578.86,908.69 579.2,909.08 579.54,907.2 579.88,908.15 580.22,907.32 580.56,915.85 580.9,907.42 581.24,907.89 581.58,907.97 581.92,909.35 582.26,907.98 582.6,908.34 582.94,908.05 583.28,908.99 583.62,910.21 583.96,909.28 584.3,908.08 584.64,906.57 584.98,906.69 585.32,908.3 585.66,907.1 586.0,906.83 586.34,908.18 586.68,908.34 587.02,908.49 587.36,908.69 587.7,913.65 588.04,908.17 588.38,908.63 588.72,908.13 589.06,907.75 589.4,909.17 589.74,907.79 590.08,907.67 590.42,907.25 590.76,907.85 591.1,907.84 591.44,908.82 591.78,910.36 592.12,907.6 592.46,909.79 592.8,908.36 593.14,909.04 593.48,908.67 593.82,906.38 594.16,908.93 594.5,908.23 594.84,908.16 595.18,907.05 595.52,908.3 595.86,907.48 596.2,907.88 596.54,906.69 596.88,906.07 597.22,906.78 597.56,908.24 597.9,907.66 598.24,906.6 598.58,907.26 598.92,906.83 599.26,908.41 599.6,909.46 599.94,909.66 600.28,907.65 600.62,907.83 600.96,906.68 601.3,909.11 601.64,906.82 601.98,908.39 602.32,907.4 602.66,909.73 603.0,908.21 603.34,908.92 603.68,908.47 604.02,907.22 604.36,908.85 604.7,907.36 605.04,909.99 605.38,909.3 605.72,909.51 606.06,907.39 606.4,908.69 606.74,907.83 607.08,907.78 607.42,908.61 607.76,907.62 608.1,907.93 608.44,907.19 608.78,908.26 609.12,908.46 609.46,907.75 609.8,905.45 610.14,908.18 610.48,908.64 610.82,908.51 611.16,908.91 611.5,908.01 611.84,906.03 612.18,907.89 612.52,904.99 612.86,908.22 613.2,907.41 613.54,906.59 613.88,908.16 614.22,906.26 614.56,908.85 614.9,907.8 615.24,907.75 615.58,906.83 615.92,907.61 616.26,911.59 616.6,907.35 616.94,907.46 617.28,907.5 617.62,907.24 617.96,906.19 618.3,906.63 618.64,907.98 618.98,908.19 619.32,907.82 619.66,906.67 620.0,907.12 620.34,906.32 620.68,906.85 621.02,908.33 621.36,902.39 621.7,908.36 622.04,907.82 622.38,907.78 622.72,907.35 623.06,906.78 623.4,908.23 623.74,907.71 624.08,908.0 624.42,906.63 624.76,906.76 625.1,905.04 625.44,907.71 625.78,906.61 626.12,905.75 626.46,906.68 626.8,905.92 627.14,907.04 627.48,906.89 627.82,906.75 628.16,906.28 628.5,907.15 628.84,906.77 629.18,907.4 629.52,906.99 629.86,906.93 630.2,906.98 630.54,907.08 630.88,908.61 631.22,906.97 631.56,906.67 631.9,905.27 632.24,906.09 632.58,907.82 632.92,905.65 633.26,907.89 633.6,905.84 633.94,906.85 634.28,907.64 634.62,908.04 634.96,907.53 635.3,906.86 635.64,906.6 635.98,906.57 636.32,905.48 636.66,907.88 637.0,908.65 637.34,904.04 637.68,907.23 638.02,906.99 638.36,907.09 638.7,905.92 639.04,905.86 639.38,907.43 639.72,906.76 640.06,907.55 640.4,904.93 640.74,906.41 641.08,905.1 641.42,905.46 641.76,907.71 642.1,907.29 642.44,905.23 642.78,906.98 643.12,908.68 643.46,905.86 643.8,907.09 644.14,906.84 644.48,905.52 644.82,904.04 645.16,905.69 645.5,906.27 645.84,904.44 646.18,906.33 646.52,905.89 646.86,905.1 647.2,903.93 647.54,906.07 647.88,904.91 648.22,907.06 648.56,907.32 648.9,906.47 649.24,906.14 649.58,906.85 649.92,907.06 650.26,905.85 650.6,907.23 650.94,906.04 651.28,907.2 651.62,904.13 651.96,906.59 652.3,908.01 652.64,904.46 652.98,905.57 653.32,905.44 653.66,905.85 654.0,905.43 654.34,905.08 654.68,906.81 655.02,904.49 655.36,906.01 655.7,905.69 656.04,905.91 656.38,904.7 656.72,906.43 657.06,905.09 657.4,904.68 657.74,905.06 658.08,905.58 658.42,904.21 658.76,906.05 659.1,905.55 659.44,905.4 659.78,906.6 660.12,908.49 660.46,906.37 660.8,905.46 661.14,903.5 661.48,906.48 661.82,905.85 662.16,906.98 662.5,905.15 662.84,903.86 663.18,906.17 663.52,905.38 663.86,905.93 664.2,905.68 664.54,904.1 664.88,905.74 665.22,906.77 665.56,905.08 665.9,903.07 666.24,904.6 666.58,904.51 666.92,905.11 667.26,903.74 667.6,906.19 667.94,902.71 668.28,905.06 668.62,905.95 668.96,908.22 669.3,900.93 669.64,905.58 669.98,904.54 670.32,903.59 670.66,899.11 671.0,904.38 671.34,903.37 671.68,904.84 672.02,905.35 672.36,904.49 672.7,905.4 673.04,903.46 673.38,905.39 673.72,904.16 674.06,904.66 674.4,905.21 674.74,903.9 675.08,904.23 675.42,904.18 675.76,904.66 676.1,905.28 676.44,903.94 676.78,904.0 677.12,904.24 677.46,904.04 677.8,904.52 678.14,903.37 678.48,906.53 678.82,904.17 679.16,905.03 679.5,904.36 679.84,903.44 680.18,902.94 680.52,904.5 680.86,900.76 681.2,903.3 681.54,904.87 681.88,904.44 682.22,903.44 682.56,903.1 682.9,905.35 683.24,904.67 683.58,902.74 683.92,905.07 684.26,904.28 684.6,903.11 684.94,905.35 685.28,902.97 685.62,903.32 685.96,898.66 686.3,904.02 686.64,906.05 686.98,904.09 687.32,904.6 687.66,902.46 688.0,905.24 688.34,903.63 688.68,904.77 689.02,904.23 689.36,903.04 689.7,904.92 690.04,903.93 690.38,903.85 690.72,904.67 691.06,905.58 691.4,904.26 691.74,902.54 692.08,904.72 692.42,904.47 692.76,897.9 693.1,903.04 693.44,903.65 693.78,903.41 694.12,902.95 694.46,908.46 694.8,902.75 695.14,904.51 695.48,901.44 695.82,903.43 696.16,903.41 696.5,903.37 696.84,904.84 697.18,904.22 697.52,902.2 697.86,903.59 698.2,905.53 698.54,902.66 698.88,904.18 699.22,902.43 699.56,903.31 699.9,903.55 700.24,903.71 700.58,903.63 700.92,905.35 701.26,903.36 701.6,902.84 701.94,903.33 702.28,905.56 702.62,901.67 702.96,904.51 703.3,901.47 703.64,902.44 703.98,902.71 704.32,902.85 704.66,903.02 705.0,904.85 705.34,902.13 705.68,902.53 706.02,902.03 706.36,902.72 706.7,902.37 707.04,899.69 707.38,903.24 707.72,903.05 708.06,901.62 708.4,901.18 708.74,903.49 709.08,903.48 709.42,903.02 709.76,901.33 710.1,904.62 710.44,902.39 710.78,901.86 711.12,903.6 711.46,901.45 711.8,903.47 712.14,903.37 712.48,903.4 712.82,903.08 713.16,902.15 713.5,903.22 713.84,903.97 714.18,901.4 714.52,902.06 714.86,903.24 715.2,903.29 715.54,903.45 715.88,902.69 716.22,904.13 716.56,903.1 716.9,904.1 717.24,905.48 717.58,902.34 717.92,901.17 718.26,902.22 718.6,903.65 718.94,902.25 719.28,902.65 719.62,902.35 719.96,900.8 720.3,901.76 720.64,907.8 720.98,903.02 721.32,900.95 721.66,901.24 722.0,901.84 722.34,902.57 722.68,902.57 723.02,900.59 723.36,900.75 723.7,898.11 724.04,902.19 724.38,902.79 724.72,902.34 725.06,901.97 725.4,902.86 725.74,901.8 726.08,902.84 726.42,903.12 726.76,902.39 727.1,902.99 727.44,902.66 727.78,901.72 728.12,901.02 728.46,902.45 728.8,902.4 729.14,902.72 729.48,902.06 729.82,901.55 730.16,901.95 730.5,901.9 730.84,903.12 731.18,901.57 731.52,901.5 731.86,902.16 732.2,901.12 732.54,901.01 732.88,901.39 733.22,901.15 733.56,900.52 733.9,899.16 734.24,901.91 734.58,899.54 734.92,901.85 735.26,900.66 735.6,902.28 735.94,900.66 736.28,901.69 736.62,900.74 736.96,900.81 737.3,900.82 737.64,900.52 737.98,900.9 738.32,900.53 738.66,903.11 739.0,901.76 739.34,901.94 739.68,902.09 740.02,902.76 740.36,901.16 740.7,898.19 741.04,901.72 741.38,901.46 741.72,902.29 742.06,901.78 742.4,901.57 742.74,902.7 743.08,902.03 743.42,902.77 743.76,901.7 744.1,901.75 744.44,901.98 744.78,903.89 745.12,901.18 745.46,901.83 745.8,901.99 746.14,902.03 746.48,900.95 746.82,900.63 747.16,901.85 747.5,899.6 747.84,903.55 748.18,900.6 748.52,900.59 748.86,901.5 749.2,901.65 749.54,898.68 749.88,899.05 750.22,902.19 750.56,903.45 750.9,901.76 751.24,902.74 751.58,902.38 751.92,902.53 752.26,902.61 752.6,900.33 752.94,900.61 753.28,899.61 753.62,900.43 753.96,902.21 754.3,902.11 754.64,900.75 754.98,899.81 755.32,900.81 755.66,899.87 756.0,900.59 756.34,901.23 756.68,901.5 757.02,895.77 757.36,902.5 757.7,902.77 758.04,899.91 758.38,899.47 758.72,899.74 759.06,900.42 759.4,900.47 759.74,899.02 760.08,900.53 760.42,893.2 760.76,898.21 761.1,900.59 761.44,901.57 761.78,901.75 762.12,899.77 762.46,899.59 762.8,896.95 763.14,902.55 763.48,898.91 763.82,899.81 764.16,900.63 764.5,900.68 764.84,899.96 765.18,897.83 765.52,901.48 765.86,901.06 766.2,902.56 766.54,899.06 766.88,900.45 767.22,899.15 767.56,899.69 767.9,900.33 768.24,898.96 768.58,900.26 768.92,900.58 769.26,897.59 769.6,894.89 769.94,898.42 770.28,902.69 770.62,900.36 770.96,900.56 771.3,900.72 771.64,899.43 771.98,901.03 772.32,900.1 772.66,901.13 773.0,901.54 773.34,899.37 773.68,900.49 774.02,900.13 774.36,900.19 774.7,899.54 775.04,901.36 775.38,900.58 775.72,899.89 776.06,899.5 776.4,900.27 776.74,900.58 777.08,899.31 777.42,899.12 777.76,899.71 778.1,901.67 778.44,901.39 778.78,898.93 779.12,900.29 779.46,899.89 779.8,898.04 780.14,899.61 780.48,899.38 780.82,900.7 781.16,899.77 781.5,899.55 781.84,900.18 782.18,901.16 782.52,899.81 782.86,900.79 783.2,899.24 783.54,900.58 783.88,898.88 784.22,898.29 784.56,899.6 784.9,900.66 785.24,899.79 785.58,901.15 785.92,897.4 786.26,904.17 786.6,899.83 786.94,899.51 787.28,898.84 787.62,899.61 787.96,901.27 788.3,899.89 788.64,900.28 788.98,898.38 789.32,899.38 789.66,899.05 790.0,898.9 790.34,900.05 790.68,900.85 791.02,899.7 791.36,898.97 791.7,899.06 792.04,899.37 792.38,899.67 792.72,899.97 793.06,900.3 793.4,903.35 793.74,900.08 794.08,901.94 794.42,900.03 794.76,900.86 795.1,898.16 795.44,899.3 795.78,899.09 796.12,899.12 796.46,900.16 796.8,899.68 797.14,898.53 797.48,900.99 797.82,898.9 798.16,899.22 798.5,899.18 798.84,898.82 799.18,898.05 799.52,897.78 799.86,898.66 800.2,901.5 800.54,899.7 800.88,899.37 801.22,898.56 801.56,898.19 801.9,898.37 802.24,898.4 802.58,901.47 802.92,898.89 803.26,900.34 803.6,898.8 803.94,900.15 804.28,899.47 804.62,900.48 804.96,897.77 805.3,894.73 805.64,898.82 805.98,898.46 806.32,899.36 806.66,897.74 807.0,897.69 807.34,899.86 807.68,899.72 808.02,898.48 808.36,899.01 808.7,901.71 809.04,898.14 809.38,898.61 809.72,899.32 810.06,898.77 810.4,900.0 810.74,898.76 811.08,898.07 811.42,900.23 811.76,896.55 812.1,898.85 812.44,899.28 812.78,898.84 813.12,897.32 813.46,899.64 813.8,896.53 814.14,898.52 814.48,896.3 814.82,896.82 815.16,896.26 815.5,898.71 815.84,896.77 816.18,898.88 816.52,897.07 816.86,899.54 817.2,898.65 817.54,899.19 817.88,898.32 818.22,898.27 818.56,898.09 818.9,898.15 819.24,898.76 819.58,897.92 819.92,896.11 820.26,898.7 820.6,897.27 820.94,897.8 821.28,899.53 821.62,898.02 821.96,899.26 822.3,898.05 822.64,893.31 822.98,897.85 823.32,898.25 823.66,898.7 824.0,898.9 824.34,897.91 824.68,898.96 825.02,896.99 825.36,897.8 825.7,898.03 826.04,898.4 826.38,901.21 826.72,897.81 827.06,897.14 827.4,900.03 827.74,897.75 828.08,897.25 828.42,897.63 828.76,899.36 829.1,899.06 829.44,897.21 829.78,897.91 830.12,900.05 830.46,892.89 830.8,897.9 831.14,898.48 831.48,896.1 831.82,899.3 832.16,896.71 832.5,893.68 832.84,897.92 833.18,897.45 833.52,897.26 833.86,898.63 834.2,897.76 834.54,896.94 834.88,895.37 835.22,897.43 835.56,898.39 835.9,896.11 836.24,898.05 836.58,897.52 836.92,895.79 837.26,897.65 837.6,898.52 837.94,897.53 838.28,895.89 838.62,898.58 838.96,901.81 839.3,896.57 839.64,896.45 839.98,896.68 840.32,896.99 840.66,897.91 841.0,899.45 841.34,897.18 841.68,898.57 842.02,897.44 842.36,897.44 842.7,898.16 843.04,897.36 843.38,895.84 843.72,901.23 844.06,899.16 844.4,895.53 844.74,896.87 845.08,896.73 845.42,896.9 845.76,896.22 846.1,895.04 846.44,895.93 846.78,896.45 847.12,896.98 847.46,896.32 847.8,896.35 848.14,898.19 848.48,897.79 848.82,897.7 849.16,897.19 849.5,903.3 849.84,897.18 850.18,897.84 850.52,896.85 850.86,893.61 851.2,896.03 851.54,897.0 851.88,898.19 852.22,897.17 852.56,895.66 852.9,897.73 853.24,896.51 853.58,898.1 853.92,895.61 854.26,895.29 854.6,902.74 854.94,895.51 855.28,900.48 855.62,897.36 855.96,896.68 856.3,896.34 856.64,896.03 856.98,896.85 857.32,895.15 857.66,897.34 858.0,896.03 858.34,897.46 858.68,895.19 859.02,897.29 859.36,895.96 859.7,896.48 860.04,897.26 860.38,898.55 860.72,897.83 861.06,899.06 861.4,896.3 861.74,896.92 862.08,896.25 862.42,896.61 862.76,895.04 863.1,888.95 863.44,896.25 863.78,895.51 864.12,895.49 864.46,894.03 864.8,895.56 865.14,895.86 865.48,897.08 865.82,892.72 866.16,896.86 866.5,897.16 866.84,901.89 867.18,897.32 867.52,895.06 867.86,895.47 868.2,897.08 868.54,897.28 868.88,895.72 869.22,894.0 869.56,896.02 869.9,897.59 870.24,895.32 870.58,894.88 870.92,896.75 871.26,896.51 871.6,894.99 871.94,895.47 872.28,897.19 872.62,896.57 872.96,896.3 873.3,897.47 873.64,894.0 873.98,896.06 874.32,895.68 874.66,901.75 875.0,895.19 875.34,895.29 875.68,894.3 876.02,895.5 876.36,895.5 876.7,896.38 877.04,895.59 877.38,893.9 877.72,895.01 878.06,895.46 878.4,895.81 878.74,897.49 879.08,897.01 879.42,894.22 879.76,895.79 880.1,895.39 880.44,895.59 880.78,895.69 881.12,891.93 881.46,895.62 881.8,895.28 882.14,895.03 882.48,895.09 882.82,894.78 883.16,894.84 883.5,895.18 883.84,895.21 884.18,894.54 884.52,896.25 884.86,895.15 885.2,895.41 885.54,897.3 885.88,894.53 886.22,895.47 886.56,894.42 886.9,895.76 887.24,895.59 887.58,895.22 887.92,894.24 888.26,892.14 888.6,893.9 888.94,894.93 889.28,897.12 889.62,895.66 889.96,894.54 890.3,894.96 890.64,895.87 890.98,895.73 891.32,894.97 891.66,895.61 892.0,896.78 892.34,894.5 892.68,894.71 893.02,894.79 893.36,895.27 893.7,896.42 894.04,896.69 894.38,894.21 894.72,895.79 895.06,901.71 895.4,896.63 895.74,895.73 896.08,896.91 896.42,892.91 896.76,894.52 897.1,893.56 897.44,890.34 897.78,894.89 898.12,892.66 898.46,896.85 898.8,895.57 899.14,893.48 899.48,895.26 899.82,894.59 900.16,896.27 900.5,894.42 900.84,897.44 901.18,894.78 901.52,893.69 901.86,896.56 902.2,894.27 902.54,894.58 902.88,894.74 903.22,895.14 903.56,893.08 903.9,895.56 904.24,894.12 904.58,896.67 904.92,893.75 905.26,893.49 905.6,895.06 905.94,894.07 906.28,893.15 906.62,895.55 906.96,895.24 907.3,895.93 907.64,894.04 907.98,894.92 908.32,896.07 908.66,895.12 909.0,894.67 909.34,893.96 909.68,894.2 910.02,895.4 910.36,895.55 910.7,895.23 911.04,896.25 911.38,893.9 911.72,896.51 912.06,893.88 912.4,894.12 912.74,895.45 913.08,893.56 913.42,894.59 913.76,894.92 914.1,896.11 914.44,895.77 914.78,895.75 915.12,893.87 915.46,896.04 915.8,895.73 916.14,895.33 916.48,893.87 916.82,896.22 917.16,893.65 917.5,895.61 917.84,893.1 918.18,895.33 918.52,894.9 918.86,894.13 919.2,895.06 919.54,896.04 919.88,895.58 920.22,893.57 920.56,894.95 920.9,896.49 921.24,893.98 921.58,894.35 921.92,893.95 922.26,894.34 922.6,893.99 922.94,894.17 923.28,894.43 923.62,894.34 923.96,893.51 924.3,894.56 924.64,895.27 924.98,896.03 925.32,893.34 925.66,893.57 926.0,894.6 926.34,895.37 926.68,896.9 927.02,895.11 927.36,894.65 927.7,895.06 928.04,893.06 928.38,894.54 928.72,895.02 929.06,893.27 929.4,894.48 929.74,893.98 930.08,894.29 930.42,894.0 930.76,892.76 931.1,893.52 931.44,892.92 931.78,894.17 932.12,895.15 932.46,893.75 932.8,894.22 933.14,893.21 933.48,894.76 933.82,894.98 934.16,894.32 934.5,893.32 934.84,894.42 935.18,895.29 935.52,894.78 935.86,893.3 936.2,893.2 936.54,894.91 936.88,901.39 937.22,895.19 937.56,894.8 937.9,893.37 938.24,893.99 938.58,894.07 938.92,894.39 939.26,893.86 939.6,887.08 939.94,894.17 940.28,895.65 940.62,893.86 940.96,891.4 941.3,894.89 941.64,892.44 941.98,895.15 942.32,893.8 942.66,893.76 943.0,893.71 943.34,895.37 943.68,893.62 944.02,894.39 944.36,895.41 944.7,894.78 945.04,890.75 945.38,895.24 945.72,894.89 946.06,894.97 946.4,897.01 946.74,895.32 947.08,894.52 947.42,893.09 947.76,892.98 948.1,893.14 948.44,893.63 948.78,894.96 949.12,892.61 949.46,892.68 949.8,894.1 950.14,899.66 950.48,895.83 950.82,894.49 951.16,893.62 951.5,893.88 951.84,895.42 952.18,894.26 952.52,894.41 952.86,892.61 953.2,894.55 953.54,891.4 953.88,893.92 954.22,893.89 954.56,894.2 954.9,895.23 955.24,893.99 955.58,895.69 955.92,894.69 956.26,892.6 956.6,892.43 956.94,893.47 957.28,892.99 957.62,894.32 957.96,893.32 958.3,893.33 958.64,893.74 958.98,893.43 959.32,894.74 959.66,893.67 960.0,894.57 960.34,896.28 960.68,893.22 961.02,893.67 961.36,894.66 961.7,890.66 962.04,893.8 962.38,891.46 962.72,892.26 963.06,893.94 963.4,892.46 963.74,889.37 964.08,893.4 964.42,891.86 964.76,895.07 965.1,894.13 965.44,894.19 965.78,893.3 966.12,890.87 966.46,892.78 966.8,893.3 967.14,894.48 967.48,894.18 967.82,893.49 968.16,893.17 968.5,891.91 968.84,892.9 969.18,895.13 969.52,893.93 969.86,894.21 970.2,894.08 970.54,892.69 970.88,900.38 971.22,892.9 971.56,892.97 971.9,894.45 972.24,893.15 972.58,893.66 972.92,891.39 973.26,894.55 973.6,892.43 973.94,894.46 974.28,894.57 974.62,887.85 974.96,894.18 975.3,893.2 975.64,892.77 975.98,893.59 976.32,893.54 976.66,895.31 977.0,895.0 977.34,893.58 977.68,893.22 978.02,893.34 978.36,892.51 978.7,893.44 979.04,893.09 979.38,891.72 979.72,893.99 980.06,893.37 980.4,895.43 980.74,893.43 981.08,890.23 981.42,893.34 981.76,893.32 982.1,894.65 982.44,894.49 982.78,893.67 983.12,893.56 983.46,888.78 983.8,895.16 984.14,894.19 984.48,894.38 984.82,894.59 985.16,893.24 985.5,893.58 985.84,892.86 986.18,894.75 986.52,892.69 986.86,894.8 987.2,894.16 987.54,893.35 987.88,892.95 988.22,892.97 988.56,893.83 988.9,892.8 989.24,894.74 989.58,894.07 989.92,895.08 990.26,894.27 990.6,892.3 990.94,895.88 991.28,894.99 991.62,894.69 991.96,892.64 992.3,894.47 992.64,892.59 992.98,893.57 993.32,893.25 993.66,893.33 994.0,896.95 994.34,895.92 994.68,894.34 995.02,894.96 995.36,895.41 995.7,893.13 996.04,893.76 996.38,896.44 996.72,894.89 997.06,893.6 997.4,894.88 997.74,893.61 998.08,893.89 998.42,894.06 998.76,893.86 999.1,893.77 999.44,895.06 999.78,896.2 1000.12,893.45 1000.46,895.29 1000.8,892.92 1001.14,892.7 1001.48,893.65 1001.82,893.24 1002.16,893.83 1002.5,895.3 1002.84,893.0 1003.18,894.11 1003.52,894.33 1003.86,893.28 1004.2,893.77 1004.54,892.76 1004.88,894.2 1005.22,894.37 1005.56,895.0 1005.9,893.24 1006.24,894.06 1006.58,893.79 1006.92,892.69 1007.26,893.87 1007.6,893.33 1007.94,892.59 1008.28,892.86 1008.62,892.62 1008.96,893.87 1009.3,892.71 1009.64,895.43 1009.98,892.59 1010.32,891.88 1010.66,894.7 1011.0,893.77 1011.34,893.51 1011.68,893.06 1012.02,893.6 1012.36,895.02 1012.7,895.04 1013.04,892.82 1013.38,893.0 1013.72,893.29 1014.06,895.19 1014.4,893.32 1014.74,894.08 1015.08,893.22 1015.42,893.56 1015.76,893.33 1016.1,895.24 1016.44,894.87 1016.78,893.74 1017.12,894.51 1017.46,892.45 1017.8,893.53 1018.14,892.96 1018.48,893.76 1018.82,890.92 1019.16,893.31 1019.5,894.83 1019.84,894.15 1020.18,893.64 1020.52,892.58 1020.86,893.81 1021.2,893.26 1021.54,893.87 1021.88,892.79 1022.22,893.82 1022.56,895.14 1022.9,893.1 1023.24,895.2 1023.58,896.96 1023.92,893.14 1024.26,894.85 1024.6,892.64 1024.94,892.89 1025.28,892.4 1025.62,892.38 1025.96,893.12 1026.3,892.85 1026.64,893.91 1026.98,893.75 1027.32,893.27 1027.66,894.29 1028.0,893.32 1028.34,893.05 1028.68,894.8 1029.02,894.18 1029.36,894.77 1029.7,892.95 1030.04,892.42 1030.38,893.25 1030.72,893.69 1031.06,894.2 1031.4,894.25 1031.74,893.83 1032.08,894.92 1032.42,894.08 1032.76,893.67 1033.1,892.35 1033.44,894.3 1033.78,893.24 1034.12,893.22 1034.46,894.05 1034.8,892.78 1035.14,893.36 1035.48,893.93 1035.82,893.75 1036.16,893.79 1036.5,893.62 1036.84,893.59 1037.18,892.55 1037.52,894.36 1037.86,893.98 1038.2,893.72 1038.54,893.77 1038.88,891.46 1039.22,892.27 1039.56,893.15 1039.9,893.15 1040.24,894.66 1040.58,894.51 1040.92,898.07 1041.26,893.15 1041.6,893.03 1041.94,891.79 1042.28,894.68 1042.62,891.8 1042.96,893.04 1043.3,894.7 1043.64,893.32 1043.98,894.12 1044.32,894.61 1044.66,893.57 1045.0,891.43 1045.34,893.32 1045.68,894.09 1046.02,894.51 1046.36,893.47 1046.7,893.44 1047.04,891.12 1047.38,894.23 1047.72,898.27 1048.06,893.49 1048.4,892.62 1048.74,891.45 1049.08,892.48 1049.42,894.15 1049.76,893.51 1050.1,894.64 1050.44,892.57 1050.78,893.59 1051.12,895.15 1051.46,893.58 1051.8,893.48 1052.14,892.94 1052.48,893.8 1052.82,894.44 1053.16,895.11 1053.5,893.92 1053.84,895.39 1054.18,893.6 1054.52,892.26 1054.86,894.35 1055.2,893.72 1055.54,892.11 1055.88,893.15 1056.22,894.17 1056.56,891.27 1056.9,894.24 1057.24,892.51 1057.58,892.27 1057.92,893.75 1058.26,892.09 1058.6,892.73 1058.94,893.42 1059.28,893.3 1059.62,892.22 1059.96,892.36 1060.3,894.79 1060.64,892.12 1060.98,891.78 1061.32,893.83 1061.66,893.58 1062.0,893.29 1062.34,894.89 1062.68,893.12 1063.02,887.24 1063.36,893.54 1063.7,893.56 1064.04,893.38 1064.38,892.41 1064.72,894.61 1065.06,892.17 1065.4,892.91 1065.74,893.96 1066.08,894.36 1066.42,893.35 1066.76,892.28 1067.1,891.88 1067.44,894.52 1067.78,892.72 1068.12,894.01 1068.46,892.64 1068.8,891.47 1069.14,893.0 1069.48,891.87 1069.82,892.27 1070.16,893.67 1070.5,894.8 1070.84,895.12 1071.18,894.13 1071.52,892.61 1071.86,891.3 1072.2,894.26 1072.54,893.63 1072.88,892.95 1073.22,893.71 1073.56,892.57 1073.9,893.65 1074.24,891.83 1074.58,892.2 1074.92,893.16 1075.26,893.22 1075.6,892.13 1075.94,892.04 1076.28,890.9 1076.62,893.19 1076.96,897.75 1077.3,893.32 1077.64,893.61 1077.98,893.16 1078.32,892.8 1078.66,892.34 1079.0,891.92 1079.34,892.56 1079.68,893.93 1080.02,894.32 1080.36,893.15 1080.7,892.68 1081.04,890.88 1081.38,892.74 1081.72,894.32 1082.06,893.14 1082.4,892.92 1082.74,894.63 1083.08,892.9 1083.42,893.18 1083.76,892.28 1084.1,894.33 1084.44,894.78 1084.78,892.89 1085.12,893.42 1085.46,892.8 1085.8,893.36 1086.14,894.46 1086.48,894.14 1086.82,894.14 1087.16,893.66 1087.5,893.07 1087.84,893.22 1088.18,893.3 1088.52,892.94 1088.86,893.66 1089.2,892.75 1089.54,892.27 1089.88,892.51 1090.22,894.48 1090.56,892.97 1090.9,892.41 1091.24,892.53 1091.58,893.41 1091.92,892.78 1092.26,892.59 1092.6,894.67 1092.94,896.22 1093.28,893.09 1093.62,894.68 1093.96,892.11 1094.3,892.57 1094.64,893.35 1094.98,891.87 1095.32,894.11 1095.66,889.25 1096.0,891.54 1096.34,892.13 1096.68,892.11 1097.02,893.39 1097.36,894.1 1097.7,891.91 1098.04,891.38 1098.38,891.93 1098.72,891.95 1099.06,890.21 1099.4,893.41 1099.74,893.43 1100.08,890.75 1100.42,893.03 1100.76,896.26 1101.1,893.57 1101.44,895.05 1101.78,893.23 1102.12,893.62 1102.46,898.07 1102.8,893.38 1103.14,892.21 1103.48,892.91 1103.82,891.97 1104.16,894.23 1104.5,891.84 1104.84,892.58 1105.18,893.86 1105.52,891.94 1105.86,891.92 1106.2,892.88 1106.54,894.64 1106.88,894.01 1107.22,892.65 1107.56,893.01 1107.9,893.54 1108.24,891.94 1108.58,896.42 1108.92,891.72 1109.26,891.41 1109.6,892.6 1109.94,893.49 1110.28,892.55 1110.62,892.5 1110.96,892.27 1111.3,892.87 1111.64,893.01 1111.98,894.09 1112.32,892.88 1112.66,893.37 1113.0,891.36 1113.34,892.25 1113.68,892.33 1114.02,886.75 1114.36,894.15 1114.7,893.7 1115.04,893.07 1115.38,891.3 1115.72,893.44 1116.06,892.97 1116.4,893.99 1116.74,894.1 1117.08,894.18 1117.42,894.1 1117.76,893.14 1118.1,893.32 1118.44,893.53 1118.78,891.38 1119.12,892.88 1119.46,893.54 1119.8,892.93 1120.14,891.47 1120.48,892.79 1120.82,892.12 1121.16,893.39 1121.5,892.63 1121.84,891.26 1122.18,892.03 1122.52,893.04 1122.86,891.64 1123.2,891.35 1123.54,893.62 1123.88,893.14 1124.22,891.96 1124.56,893.38 1124.9,897.86 1125.24,891.22 1125.58,894.31 1125.92,891.65 1126.26,894.38 1126.6,893.41 1126.94,891.64 1127.28,893.13 1127.62,893.97 1127.96,892.52 1128.3,891.43 1128.64,892.37 1128.98,891.76 1129.32,892.74 1129.66,892.12 1130.0,891.64 1130.34,891.71 1130.68,892.73 1131.02,889.9 1131.36,893.21 1131.7,891.35 1132.04,891.29 1132.38,893.72 1132.72,893.86 1133.06,891.49 1133.4,891.75 1133.74,893.51 1134.08,894.98 1134.42,892.76 1134.76,893.02 1135.1,892.43 1135.44,892.41 1135.78,892.62 1136.12,892.93 1136.46,893.11 1136.8,893.46 1137.14,892.57 1137.48,892.87 1137.82,893.4 1138.16,893.17 1138.5,892.94 1138.84,893.42 1139.18,893.33 1139.52,893.52 1139.86,888.07 1140.2,891.55 1140.54,892.21 1140.88,893.05 1141.22,893.93 1141.56,890.87 1141.9,891.31 1142.24,893.97 1142.58,893.64 1142.92,892.04 1143.26,892.73 1143.6,891.73 1143.94,892.33 1144.28,892.88 1144.62,891.18 1144.96,893.97 1145.3,897.25 1145.64,893.99 1145.98,893.01 1146.32,891.02 1146.66,891.72 1147.0,891.68 1147.34,893.34 1147.68,893.98 1148.02,893.28 1148.36,892.81 1148.7,892.58 1149.04,894.21 1149.38,893.23 1149.72,891.57 1150.06,891.92 1150.4,894.06 1150.74,892.47 1151.08,892.6 1151.42,895.04 1151.76,893.54 1152.1,892.74 1152.44,892.6 1152.78,891.75 1153.12,892.11 1153.46,892.27 1153.8,890.6 1154.14,890.87 1154.48,893.79 1154.82,893.99 1155.16,893.46 1155.5,892.02 1155.84,893.63 1156.18,891.39 1156.52,891.83 1156.86,892.87 1157.2,892.25 1157.54,890.93 1157.88,891.66 1158.22,890.94 1158.56,891.56 1158.9,891.36 1159.24,892.5 1159.58,893.69 1159.92,892.87 1160.26,891.7 1160.6,893.14 1160.94,892.59 1161.28,892.14 1161.62,892.74 1161.96,890.57 1162.3,893.03 1162.64,891.29 1162.98,890.01 1163.32,892.52 1163.66,893.58 1164.0,893.32 1164.34,892.58 1164.68,890.71 1165.02,893.95 1165.36,892.81 1165.7,890.27 1166.04,892.88 1166.38,890.85 1166.72,892.04 1167.06,892.16 1167.4,893.39 1167.74,893.87 1168.08,891.35 1168.42,894.09 1168.76,893.84 1169.1,891.9 1169.44,891.74 1169.78,894.28 1170.12,891.01 1170.46,893.42 1170.8,889.83 1171.14,892.96 1171.48,894.06 1171.82,893.7 1172.16,891.89 1172.5,893.07 1172.84,893.11 1173.18,892.15 1173.52,891.65 1173.86,893.33 1174.2,895.3 1174.54,893.12 1174.88,893.47 1175.22,892.82 1175.56,892.17 1175.9,893.04 1176.24,896.89 1176.58,893.39 1176.92,891.55 1177.26,892.7 1177.6,891.48 1177.94,890.71 1178.28,890.65 1178.62,890.74 1178.96,892.32 1179.3,891.99 1179.64,893.3 1179.98,890.99 1180.32,891.22 1180.66,891.31 1181.0,890.73 1181.34,892.47 1181.68,891.44 1182.02,892.61 1182.36,892.13 1182.7,894.98 1183.04,892.99 1183.38,894.29 1183.72,891.16 1184.06,892.86 1184.4,891.75 1184.74,891.8 1185.08,892.2 1185.42,892.34 1185.76,891.3 1186.1,891.75 1186.44,889.83 1186.78,891.15 1187.12,892.1 1187.46,893.69 1187.8,890.39 1188.14,891.54 1188.48,892.81 1188.82,891.97 1189.16,893.78 1189.5,892.22 1189.84,891.07 1190.18,892.09 1190.52,891.98 1190.86,891.15 1191.2,892.54 1191.54,890.47 1191.88,891.88 1192.22,891.13 1192.56,895.05 1192.9,891.92 1193.24,891.53 1193.58,892.58 1193.92,889.73 1194.26,894.78 1194.6,891.97 1194.94,892.36 1195.28,890.93 1195.62,892.88 1195.96,891.53 1196.3,891.94 1196.64,891.18 1196.98,891.23 1197.32,893.42 1197.66,890.56 1198.0,889.33 1198.34,890.42 1198.68,890.78 1199.02,891.45 1199.36,891.87 1199.7,893.4 1200.04,892.92 1200.38,891.91 1200.72,890.01 1201.06,893.31 1201.4,890.97 1201.74,891.3 1202.08,891.32 1202.42,891.82 1202.76,892.29 1203.1,890.13 1203.44,892.71 1203.78,892.87 1204.12,892.14 1204.46,891.04 1204.8,893.63 1205.14,892.63 1205.48,893.15 1205.82,892.86 1206.16,891.4 1206.5,890.82 1206.84,892.74 1207.18,892.53 1207.52,891.12 1207.86,891.25 1208.2,891.09 1208.54,892.38 1208.88,893.19 1209.22,890.37 1209.56,892.05 1209.9,889.24 1210.24,893.09 1210.58,892.42 1210.92,891.76 1211.26,891.78 1211.6,892.0 1211.94,892.29 1212.28,892.7 1212.62,891.25 1212.96,890.59 1213.3,892.14 1213.64,891.77 1213.98,893.64 1214.32,892.57 1214.66,892.67 1215.0,890.63 1215.34,893.22 1215.68,891.74 1216.02,892.42 1216.36,889.92 1216.7,890.78 1217.04,891.43 1217.38,893.56 1217.72,890.87 1218.06,893.06 1218.4,890.11 1218.74,891.43 1219.08,890.62 1219.42,893.52 1219.76,893.2 1220.1,894.21 1220.44,891.47 1220.78,888.14 1221.12,891.05 1221.46,892.58 1221.8,893.31 1222.14,892.2 1222.48,891.67 1222.82,891.37 1223.16,892.25 1223.5,890.9 1223.84,892.99 1224.18,892.96 1224.52,889.36 1224.86,889.81 1225.2,889.04 1225.54,890.25 1225.88,892.65 1226.22,890.51 1226.56,891.42 1226.9,893.67 1227.24,892.19 1227.58,892.4 1227.92,892.49 1228.26,890.98 1228.6,890.27 1228.94,891.87 1229.28,890.14 1229.62,892.74 1229.96,898.64 1230.3,892.66 1230.64,892.57 1230.98,891.71 1231.32,891.52 1231.66,892.58 1232.0,893.37 1232.34,893.21 1232.68,891.01 1233.02,896.19 1233.36,891.61 1233.7,892.42 1234.04,891.8 1234.38,891.38 1234.72,891.18 1235.06,892.0 1235.4,892.34 1235.74,890.86 1236.08,893.2 1236.42,893.15 1236.76,892.08 1237.1,891.25 1237.44,892.23 1237.78,891.71 1238.12,890.45 1238.46,891.88 1238.8,891.92 1239.14,891.3 1239.48,892.06 1239.82,885.61 1240.16,891.86 1240.5,891.89 1240.84,890.91 1241.18,892.18 1241.52,892.46 1241.86,893.04 1242.2,891.18 1242.54,891.04 1242.88,891.5 1243.22,890.36 1243.56,891.89 1243.9,891.65 1244.24,891.99 1244.58,891.5 1244.92,891.42 1245.26,890.74 1245.6,890.08 1245.94,890.66 1246.28,890.85 1246.62,890.76 1246.96,891.84 1247.3,892.49 1247.64,889.32 1247.98,890.2 1248.32,892.91 1248.66,891.45 1249.0,891.92 1249.34,891.69 1249.68,891.52 1250.02,890.96 1250.36,891.99 1250.7,892.05 1251.04,891.53 1251.38,890.63 1251.72,890.37 1252.06,894.98 1252.4,891.93 1252.74,887.13 1253.08,891.29 1253.42,896.14 1253.76,890.47 1254.1,893.25 1254.44,891.68 1254.78,891.08 1255.12,891.74 1255.46,892.3 1255.8,890.49 1256.14,893.66 1256.48,891.72 1256.82,891.22 1257.16,892.32 1257.5,892.16 1257.84,892.01 1258.18,892.42 1258.52,893.17 1258.86,892.48 1259.2,889.92 1259.54,895.96 1259.88,891.44 1260.22,888.1 1260.56,890.37 1260.9,892.94 1261.24,891.82 1261.58,891.62 1261.92,891.03 1262.26,892.27 1262.6,892.22 1262.94,891.36 1263.28,891.71 1263.62,889.84 1263.96,891.83 1264.3,890.82 1264.64,893.24 1264.98,890.62 1265.32,892.19 1265.66,890.33 1266.0,892.25 1266.34,892.66 1266.68,891.4 1267.02,889.96 1267.36,891.37 1267.7,892.86 1268.04,893.34 1268.38,890.33 1268.72,890.41 1269.06,892.54 1269.4,891.94 1269.74,890.81 1270.08,891.65 1270.42,890.19 1270.76,890.37 1271.1,891.95 1271.44,890.78 1271.78,890.76 1272.12,889.29 1272.46,890.77 1272.8,890.57 1273.14,892.14 1273.48,890.81 1273.82,891.08 1274.16,891.64 1274.5,893.98 1274.84,889.98 1275.18,890.97 1275.52,891.9 1275.86,892.45 1276.2,890.18 1276.54,891.69 1276.88,892.99 1277.22,891.51 1277.56,890.54 1277.9,890.7 1278.24,892.35 1278.58,891.59 1278.92,890.45 1279.26,890.4 1279.6,889.19 1279.94,891.39 1280.28,890.55 1280.62,892.08 1280.96,892.12 1281.3,892.16 1281.64,890.37 1281.98,890.43 1282.32,891.48 1282.66,889.31 1283.0,891.01 1283.34,890.54 1283.68,891.69 1284.02,892.25 1284.36,891.37 1284.7,891.35 1285.04,891.69 1285.38,890.05 1285.72,892.13 1286.06,890.38 1286.4,890.99 1286.74,892.33 1287.08,891.0 1287.42,891.79 1287.76,889.84 1288.1,891.55 1288.44,889.92 1288.78,890.58 1289.12,890.91 1289.46,890.91 1289.8,891.87 1290.14,890.31 1290.48,892.78 1290.82,890.82 1291.16,891.11 1291.5,889.01 1291.84,888.88 1292.18,891.92 1292.52,891.68 1292.86,890.54 1293.2,892.36 1293.54,890.15 1293.88,891.48 1294.22,891.75 1294.56,891.28 1294.9,892.35 1295.24,892.12 1295.58,890.33 1295.92,891.12 1296.26,891.01 1296.6,895.33 1296.94,891.52 1297.28,890.36 1297.62,890.15 1297.96,891.31 1298.3,889.74 1298.64,890.0 1298.98,888.04 1299.32,892.68 1299.66,891.45 1300.0,890.4 1300.34,890.07 1300.68,888.43 1301.02,891.65 1301.36,891.41 1301.7,890.91 1302.04,890.34 1302.38,892.55 1302.72,891.59 1303.06,889.88 1303.4,890.58 1303.74,891.29 1304.08,888.65 1304.42,890.22 1304.76,890.85 1305.1,891.14 1305.44,892.17 1305.78,888.94 1306.12,892.42 1306.46,891.02 1306.8,890.91 1307.14,891.19 1307.48,889.46 1307.82,891.23 1308.16,890.49 1308.5,891.4 1308.84,893.86 1309.18,889.4 1309.52,890.05 1309.86,891.12 1310.2,897.96 1310.54,889.91 1310.88,890.68 1311.22,891.86 1311.56,892.25 1311.9,889.45 1312.24,891.95 1312.58,890.17 1312.92,889.96 1313.26,892.41 1313.6,891.74 1313.94,891.15 1314.28,890.65 1314.62,890.74 1314.96,890.63 1315.3,890.95 1315.64,890.92 1315.98,891.89 1316.32,890.92 1316.66,890.97 1317.0,888.79 1317.34,890.74 1317.68,890.95 1318.02,893.08 1318.36,891.13 1318.7,891.14 1319.04,891.45 1319.38,890.13 1319.72,890.14 1320.06,892.12 1320.4,890.01 1320.74,888.9 1321.08,888.89 1321.42,890.28 1321.76,892.12 1322.1,891.44 1322.44,891.63 1322.78,891.14 1323.12,885.96 1323.46,893.47 1323.8,892.2 1324.14,888.32 1324.48,889.52 1324.82,891.48 1325.16,892.16 1325.5,891.37 1325.84,890.17 1326.18,893.4 1326.52,891.71 1326.86,891.6 1327.2,890.68 1327.54,891.5 1327.88,890.24 1328.22,888.68 1328.56,890.78 1328.9,888.25 1329.24,889.22 1329.58,889.73 1329.92,891.23 1330.26,890.7 1330.6,891.12 1330.94,890.57 1331.28,889.66 1331.62,891.78 1331.96,889.58 1332.3,891.09 1332.64,890.39 1332.98,889.55 1333.32,890.05 1333.66,890.42 1334.0,889.3 1334.34,890.91 1334.68,892.11 1335.02,891.63 1335.36,892.61 1335.7,891.18 1336.04,891.95 1336.38,891.6 1336.72,889.63 1337.06,889.59 1337.4,889.93 1337.74,891.32 1338.08,890.51 1338.42,889.84 1338.76,890.37 1339.1,890.05 1339.44,889.61 1339.78,892.53 1340.12,891.17 1340.46,890.41 1340.8,890.83 1341.14,890.53 1341.48,889.31 1341.82,890.38 1342.16,889.48 1342.5,890.0 1342.84,888.14 1343.18,890.05 1343.52,890.89 1343.86,892.0 1344.2,894.7 1344.54,890.53 1344.88,891.23 1345.22,888.79 1345.56,890.47 1345.9,890.09 1346.24,889.39 1346.58,889.65 1346.92,889.27 1347.26,889.6 1347.6,889.82 1347.94,893.68 1348.28,895.04 1348.62,890.17 1348.96,891.73 1349.3,891.1 1349.64,889.44 1349.98,890.57 1350.32,891.19 1350.66,889.46 1351.0,891.11 1351.34,889.81 1351.68,889.59 1352.02,890.02 1352.36,891.44 1352.7,890.97 1353.04,889.62 1353.38,888.74 1353.72,889.3 1354.06,892.31 1354.4,890.88 1354.74,891.19 1355.08,891.13 1355.42,890.26 1355.76,889.47 1356.1,890.55 1356.44,890.71 1356.78,888.89 1357.12,891.41 1357.46,891.24 1357.8,889.86 1358.14,889.02 1358.48,889.98 1358.82,886.18 1359.16,889.94 1359.5,889.75 1359.84,890.34 1360.18,889.98 1360.52,890.55 1360.86,890.02 1361.2,892.33 1361.54,890.1 1361.88,890.01 1362.22,889.92 1362.56,889.93 1362.9,891.03 1363.24,890.85 1363.58,890.98 1363.92,890.05 1364.26,888.78 1364.6,889.21 1364.94,890.3 1365.28,890.33 1365.62,889.55 1365.96,889.12 1366.3,888.38 1366.64,889.39 1366.98,888.94 1367.32,888.57 1367.66,888.27 1368.0,892.03 1368.34,889.13 1368.68,890.91 1369.02,893.61 1369.36,888.34 1369.7,889.67 1370.04,890.27 1370.38,889.54 1370.72,888.87 1371.06,887.04 1371.4,895.8 1371.74,888.34 1372.08,890.22 1372.42,889.98 1372.76,890.02 1373.1,890.53 1373.44,890.1 1373.78,890.46 1374.12,890.36 1374.46,889.22 1374.8,889.28 1375.14,890.99 1375.48,887.34 1375.82,890.03 1376.16,889.1 1376.5,891.31 1376.84,891.28 1377.18,890.58 1377.52,890.71 1377.86,889.8 1378.2,890.84 1378.54,888.55 1378.88,890.97 1379.22,889.27 1379.56,890.66 1379.9,890.58 1380.24,889.28 1380.58,890.59 1380.92,888.03 1381.26,889.79 1381.6,889.78 1381.94,889.59 1382.28,890.48 1382.62,889.02 1382.96,889.0 1383.3,889.79 1383.64,889.56 1383.98,889.03 1384.32,890.01 1384.66,884.55 1385.0,890.58 1385.34,889.28 1385.68,891.46 1386.02,890.58 1386.36,886.91 1386.7,890.7 1387.04,888.87 1387.38,891.9 1387.72,889.75 1388.06,888.34 1388.4,889.63 1388.74,890.35 1389.08,890.17 1389.42,887.74 1389.76,889.07 1390.1,889.16 1390.44,889.82 1390.78,888.99 1391.12,887.99 1391.46,890.22 1391.8,887.26 1392.14,889.62 1392.48,887.0 1392.82,889.65 1393.16,890.66 1393.5,890.97 1393.84,890.22 1394.18,889.87 1394.52,889.5 1394.86,889.22 1395.2,890.32 1395.54,890.67 1395.88,889.94 1396.22,889.79 1396.56,889.23 1396.9,890.28 1397.24,894.75 1397.58,888.15 1397.92,889.84 1398.26,889.18 1398.6,888.15 1398.94,889.63 1399.28,889.12 1399.62,887.77 1399.96,889.59 1400.3,889.92 1400.64,890.13 1400.98,890.06 1401.32,888.42 1401.66,887.97 1402.0,887.94 1402.34,890.82 1402.68,890.31 1403.02,889.89 1403.36,888.7 1403.7,888.26 1404.04,889.63 1404.38,888.28 1404.72,884.1 1405.06,889.73 1405.4,890.16 1405.74,889.84 1406.08,893.88 1406.42,888.96 1406.76,888.12 1407.1,889.48 1407.44,890.01 1407.78,888.15 1408.12,888.21 1408.46,887.79 1408.8,887.1 1409.14,888.73 1409.48,888.15 1409.82,891.91 1410.16,888.7 1410.5,888.21 1410.84,890.76 1411.18,888.17 1411.52,890.05 1411.86,888.99 1412.2,888.08 1412.54,889.81 1412.88,888.0 1413.22,890.05 1413.56,889.75 1413.9,888.16 1414.24,888.32 1414.58,887.8 1414.92,889.11 1415.26,889.26 1415.6,890.28 1415.94,889.23 1416.28,893.94 1416.62,888.74 1416.96,889.4 1417.3,888.32 1417.64,889.77 1417.98,889.28 1418.32,888.65 1418.66,888.36 1419.0,887.14 1419.34,889.07 1419.68,890.26 1420.02,887.12 1420.36,884.24 1420.7,889.01 1421.04,888.48 1421.38,888.1 1421.72,888.22 1422.06,890.46 1422.4,889.23 1422.74,888.49 1423.08,888.16 1423.42,890.26 1423.76,889.09 1424.1,888.7 1424.44,889.58 1424.78,889.24 1425.12,894.19 1425.46,888.78 1425.8,887.11 1426.14,888.38 1426.48,889.6 1426.82,889.53 1427.16,896.16 1427.5,889.43 1427.84,888.99 1428.18,889.25 1428.52,886.4 1428.86,894.58 1429.2,888.53 1429.54,888.07 1429.88,889.69 1430.22,890.63 1430.56,891.47 1430.9,883.97 1431.24,888.46 1431.58,886.31 1431.92,890.89 1432.26,887.1 1432.6,888.35 1432.94,889.01 1433.28,888.11 1433.62,888.97 1433.96,889.89 1434.3,890.1 1434.64,891.05 1434.98,887.49 1435.32,887.53 1435.66,887.18 1436.0,895.97 1436.34,890.22 1436.68,888.83 1437.02,887.79 1437.36,889.32 1437.7,888.44 1438.04,889.49 1438.38,889.72 1438.72,889.55 1439.06,887.87 1439.4,889.94 1439.74,890.42 1440.08,887.82 1440.42,894.44 1440.76,890.53 1441.1,889.93 1441.44,890.19 1441.78,887.4 1442.12,888.01 1442.46,887.86 1442.8,889.51 1443.14,887.99 1443.48,889.85 1443.82,888.66 1444.16,889.3 1444.5,890.43 1444.84,890.02 1445.18,887.78 1445.52,890.0 1445.86,890.35 1446.2,887.28 1446.54,888.59 1446.88,889.03 1447.22,886.8 1447.56,885.08 1447.9,889.71 1448.24,888.9 1448.58,887.51 1448.92,887.71 1449.26,889.88 1449.6,889.54 1449.94,888.36 1450.28,889.08 1450.62,889.37 1450.96,888.85 1451.3,887.31 1451.64,889.09 1451.98,886.91 1452.32,887.63 1452.66,887.41 1453.0,888.98 1453.34,890.32 1453.68,889.22 1454.02,889.3 1454.36,888.75 1454.7,892.31 1455.04,889.53 1455.38,890.67 1455.72,888.43 1456.06,889.2 1456.4,889.79 1456.74,889.12 1457.08,891.56 1457.42,888.77 1457.76,888.52 1458.1,889.84 1458.44,888.3 1458.78,888.18 1459.12,888.95 1459.46,893.66 1459.8,889.33 1460.14,891.73 1460.48,890.05 1460.82,888.64 1461.16,883.85 1461.5,888.52 1461.84,889.56 1462.18,890.05 1462.52,887.6 1462.86,889.74 1463.2,887.41 1463.54,889.37 1463.88,889.15 1464.22,888.35 1464.56,888.28 1464.9,887.3 1465.24,888.53 1465.58,889.52 1465.92,886.9 1466.26,894.48 1466.6,889.21 1466.94,889.42 1467.28,887.17 1467.62,887.36 1467.96,888.04 1468.3,887.73 1468.64,887.14 1468.98,888.67 1469.32,888.8 1469.66,889.91 1470.0,889.45 1470.34,887.65 1470.68,887.32 1471.02,889.57 1471.36,887.94 1471.7,889.01 1472.04,887.92 1472.38,888.2 1472.72,888.93 1473.06,889.19 1473.4,888.62 1473.74,887.28 1474.08,888.39 1474.42,888.36 1474.76,888.53 1475.1,889.81 1475.44,888.98 1475.78,888.52 1476.12,888.96 1476.46,888.23 1476.8,889.6 1477.14,887.56 1477.48,886.73 1477.82,887.93 1478.16,890.71 1478.5,888.21 1478.84,888.34 1479.18,889.23 1479.52,888.25 1479.86,888.0 1480.2,886.98 1480.54,888.13 1480.88,887.74 1481.22,891.25 1481.56,888.76 1481.9,888.69 1482.24,887.72 1482.58,888.53 1482.92,889.26 1483.26,886.83 1483.6,887.84 1483.94,890.27 1484.28,888.64 1484.62,887.17 1484.96,890.6 1485.3,888.55 1485.64,889.89 1485.98,890.46 1486.32,889.59 1486.66,888.95 1487.0,887.79 1487.34,888.95 1487.68,889.28 1488.02,888.09 1488.36,888.19 1488.7,888.68 1489.04,888.17 1489.38,887.21 1489.72,888.34 1490.06,888.67 1490.4,887.5 1490.74,888.94 1491.08,889.65 1491.42,886.42 1491.76,888.14 1492.1,889.24 1492.44,889.42 1492.78,888.69 1493.12,888.49 1493.46,890.34 1493.8,889.79 1494.14,888.05 1494.48,891.11 1494.82,887.95 1495.16,888.85 1495.5,889.74 1495.84,888.64 1496.18,888.61 1496.52,888.14 1496.86,885.89 1497.2,887.6 1497.54,888.4 1497.88,888.33 1498.22,887.74 1498.56,888.94 1498.9,888.29 1499.24,887.13 1499.58,888.41 1499.92,886.2 1500.26,889.16 1500.6,888.62 1500.94,888.98 1501.28,886.98 1501.62,887.22 1501.96,886.39 1502.3,887.56 1502.64,888.54 1502.98,887.03 1503.32,887.05 1503.66,889.51 1504.0,889.67 1504.34,887.69 1504.68,890.96 1505.02,887.38 1505.36,887.33 1505.7,888.82 1506.04,887.86 1506.38,885.69 1506.72,885.43 1507.06,889.13 1507.4,882.08 1507.74,888.08 1508.08,888.87 1508.42,888.47 1508.76,887.98 1509.1,887.4 1509.44,888.72 1509.78,889.81 1510.12,893.26 1510.46,888.96 1510.8,888.79 1511.14,889.16 1511.48,887.33 1511.82,886.91 1512.16,889.0 1512.5,885.05 1512.84,887.77 1513.18,889.6 1513.52,888.68 1513.86,888.62 1514.2,887.41 1514.54,886.95 1514.88,888.21 1515.22,888.17 1515.56,889.17 1515.9,889.29 1516.24,888.91 1516.58,886.39 1516.92,888.94 1517.26,888.1 1517.6,888.19 1517.94,889.27 1518.28,888.85 1518.62,887.44 1518.96,889.03 1519.3,886.83 1519.64,886.56 1519.98,888.46 1520.32,888.56 1520.66,887.51 1521.0,888.46 1521.34,888.28 1521.68,885.84 1522.02,887.23 1522.36,888.45 1522.7,886.39 1523.04,887.09 1523.38,884.8 1523.72,887.57 1524.06,888.49 1524.4,888.46 1524.74,888.4 1525.08,888.3 1525.42,889.93 1525.76,887.87 1526.1,889.15 1526.44,887.11 1526.78,887.66 1527.12,888.92 1527.46,887.54 1527.8,887.01 1528.14,888.31 1528.48,887.18 1528.82,889.08 1529.16,888.49 1529.5,885.85 1529.84,887.46 1530.18,888.79 1530.52,889.33 1530.86,888.49 1531.2,887.37 1531.54,887.99 1531.88,888.08 1532.22,887.31 1532.56,887.5 1532.9,894.16 1533.24,887.75 1533.58,890.74 1533.92,886.7 1534.26,888.17 1534.6,887.58 1534.94,884.62 1535.28,886.18 1535.62,885.47 1535.96,888.13 1536.3,888.86 1536.64,887.95 1536.98,888.13 1537.32,887.35 1537.66,887.6 1538.0,890.78 1538.34,888.39 1538.68,887.06 1539.02,887.53 1539.36,887.29 1539.7,888.93 1540.04,888.13 1540.38,887.44 1540.72,890.52 1541.06,887.42 1541.4,886.98 1541.74,886.25 1542.08,888.83 1542.42,888.45 1542.76,887.97 1543.1,888.8 1543.44,887.88 1543.78,886.77 1544.12,887.45 1544.46,886.58 1544.8,888.5 1545.14,886.54 1545.48,888.04 1545.82,886.25 1546.16,887.51 1546.5,888.64 1546.84,886.97 1547.18,888.66 1547.52,888.19 1547.86,887.37 1548.2,886.35 1548.54,887.79 1548.88,888.46 1549.22,886.74 1549.56,888.21 1549.9,888.42 1550.24,887.06 1550.58,886.79 1550.92,886.44 1551.26,890.05 1551.6,886.05 1551.94,888.03 1552.28,887.55 1552.62,887.39 1552.96,886.74 1553.3,886.05 1553.64,887.83 1553.98,887.42 1554.32,888.34 1554.66,887.09 1555.0,886.54 1555.34,888.06 1555.68,887.82 1556.02,887.82 1556.36,886.51 1556.7,882.42 1557.04,885.37 1557.38,887.54 1557.72,888.87 1558.06,888.13 1558.4,887.51 1558.74,886.55 1559.08,888.47 1559.42,887.24 1559.76,886.77 1560.1,886.34 1560.44,887.46 1560.78,887.28 1561.12,889.76 1561.46,886.83 1561.8,886.28 1562.14,886.49 1562.48,886.45 1562.82,888.9 1563.16,885.84 1563.5,885.88 1563.84,887.6 1564.18,887.04 1564.52,887.88 1564.86,888.37 1565.01,887.44 1567.26,884.62 1569.93,884.4 1572.44,881.09 1574.73,881.0 1576.82,879.5 1578.74,878.0 1580.49,876.5 1582.12,875.0 1583.64,873.5 1585.05,872.0 1586.38,870.5 1587.64,869.0 1588.82,867.5 1589.94,866.0 1591.01,864.5 1592.03,863.0 1593.0,861.5 1593.94,860.0 1594.83,858.5 1595.69,857.0 1596.52,855.5 1597.31,854.0 1598.08,852.5 1598.83,851.0 1599.54,849.5 1600.91,846.5 1602.2,843.5 1603.42,840.5 1604.58,837.5 1605.68,834.5 1606.72,831.5 1607.72,828.5 1608.67,825.5 1609.59,822.5 1610.47,819.5 1611.31,816.5 1612.12,813.5 1612.91,810.5 1613.66,807.5 1614.39,804.5 1615.1,801.5 1615.79,798.5 1616.45,795.5 1617.1,792.5 1617.72,789.5 1618.33,786.5 1618.92,783.5 1619.5,780.5 1620.06,777.5 1620.61,774.5 1621.14,771.5 1621.66,768.5 1622.17,765.5 1622.67,762.5 1623.15,759.5 1623.63,756.5 1624.09,753.5 1624.55,750.5 1624.99,747.5 1625.43,744.5 1625.85,741.5 1626.27,738.5 1626.68,735.5 1627.08,732.5 1627.48,729.5 1627.87,726.5 1628.25,723.5 1628.62,720.5 1628.99,717.5 1629.35,714.5 1629.71,711.5 1630.06,708.5 1630.4,705.5 1630.74,702.5 1631.07,699.5 1631.4,696.5 1631.72,693.5 1632.03,690.5 1632.35,687.5 1632.65,684.5 1632.96,681.5 1633.26,678.5 1633.55,675.5 1633.84,672.5 1634.13,669.5 1634.41,666.5 1634.69,663.5 1634.96,660.5 1635.23,657.5 1635.5,654.5 1635.77,651.5 1636.03,648.5 1636.28,645.5 1636.54,642.5 1636.79,639.5 1637.04,636.5 1637.28,633.5 1637.52,630.5 1637.76,627.5 1638.0,624.5 1638.23,621.5 1638.46,618.5 1638.69,615.5 1638.92,612.5 1639.14,609.5 1639.36,606.5 1639.58,603.5 1639.79,600.5 1640.01,597.5 1640.22,594.5 1640.43,591.5 1640.63,588.5 1640.84,585.5 1641.04,582.5 1641.24,579.5 1641.44,576.5 1641.64,573.5 1641.83,570.5 1642.02,567.5 1642.22,564.5 1642.4,561.5 1642.59,558.5 1642.78,555.5 1642.96,552.5 1643.14,549.5 1643.32,546.5 1643.5,543.5 1643.68,540.5 1643.85,537.5 1644.03,534.5 1644.2,531.5 1644.37,528.5 1644.54,525.5 1644.71,522.5 1644.87,519.5 1645.04,516.5 1645.2,513.5 1645.36,510.5 1645.52,507.5 1645.68,504.5 1645.84,501.5 1646.0,498.5 1646.15,495.5 1646.31,492.5 1646.46,489.5 1646.61,486.5 1646.76,483.5 1646.91,480.5 1647.06,477.5 1647.2,474.5 1647.35,471.5 1647.5,468.5 1647.64,465.5 1647.78,462.5 1647.92,459.5 1648.06,456.5 1648.2,453.5 1648.34,450.5 1648.48,447.5 1648.61,444.5 1648.75,441.5 1648.88,438.5 1649.02,435.5 1649.15,432.5 1649.28,429.5 1649.41,426.5 1649.54,423.5 1649.67,420.5 1649.8,417.5 1649.92,414.5 1650.05,411.5 1650.17,408.5 1650.3,405.5 1650.42,402.5 1650.54,399.5 1651.6,397 1652.6,391.5 1653.8,389.2 1655,388.7 1655,386.41 1655.34,388.58 1655.68,389.48 1656.02,387.06 1656.36,389.46 1656.7,388.1 1657.04,387.91 1657.38,387.39 1657.72,389.34 1658.06,387.61 1658.4,386.95 1658.74,388.47 1659.08,389.54 1659.42,388.31 1659.76,389.4 1660.1,387.66 1660.44,388.61 1660.78,388.24 1661.12,388.96 1661.46,388.34 1661.8,388.34 1662.14,388.91 1662.48,382.65 1662.82,389.46 1663.16,387.76 1663.5,388.41 1663.84,389.91 1664.18,390.49 1664.52,387.88 1664.86,390.83 1665.2,389.82 1665.54,385.9 1665.88,388.44 1666.22,389.18 1666.56,389.29 1666.9,389.93 1667.24,388.34 1667.58,388.38 1667.92,388.72 1668.26,388.14 1668.6,383.76 1668.94,389.49 1669.28,388.84 1669.62,387.75 1669.96,387.63 1670.3,384.55 1670.64,388.89 1670.98,389.65 1671.32,383.19 1671.66,388.83 1672.0,388.5 1672.34,386.51 1672.68,390.5 1673.02,387.81 1673.36,390.49 1673.7,387.61 1674.04,387.95 1674.38,388.96 1674.72,388.02 1675.06,389.48 1675.4,388.62 1675.74,389.13 1676.08,389.69 1676.42,388.14 1676.76,388.23 1677.1,388.13 1677.44,389.84 1677.78,388.78 1678.12,390.74 1678.46,389.36 1678.8,388.06 1679.14,388.34 1679.48,387.36 1679.82,383.24 1680.16,389.54 1680.5,389.79 1680.84,389.31 1681.18,386.86 1681.52,387.3 1681.86,387.41 1682.2,386.63 1682.54,388.69 1682.88,389.13 1683.22,383.18 1683.56,390.06 1683.9,389.11 1684.24,387.81 1684.58,390.36 1684.92,383.78 1685.26,389.25 1685.6,390.35 1685.94,389.15 1686.28,389.84 1686.62,383.96 1686.96,389.93 1687.3,388.82 1687.64,391.35 1687.98,389.41 1688.32,389.01 1688.66,387.53 1689.0,388.21 1689.34,386.69 1689.68,389.69 1690.02,386.96 1690.36,390.04 1690.7,388.7 1691.04,387.79 1691.38,387.46 1691.72,383.43 1692.06,390.37 1692.4,389.84 1692.74,391.02 1693.08,388.27 1693.42,387.4 1693.76,388.94 1694.1,387.94 1694.44,389.3 1694.78,388.38 1695.12,389.59 1695.46,387.73 1695.8,387.58 1696.14,387.16 1696.48,388.13 1696.82,390.02 1697.16,387.21 1697.5,392.21 1697.84,388.35 1698.18,388.5 1698.52,388.78 1698.86,388.27 1699.2,384.48 1699.54,388.52 1699.88,387.51 1700.22,390.39 1700.56,388.89 1700.9,388.01 1701.24,389.02 1701.58,390.1 1701.92,388.46 1702.26,388.27 1702.6,388.17 1702.94,387.2 1703.28,388.09 1703.62,388.29 1703.96,388.69 1704.3,387.77 1704.64,391.66 1704.98,389.07 1705.32,388.46 1705.66,390.99 1706.0,389.87 1706.34,387.63 1706.68,389.51 1707.02,389.75 1707.36,387.65 1707.7,390.75 1708.04,387.64 1708.38,390.23 1708.72,389.05 1709.06,390.58 1709.4,388.9 1709.74,383.3 1710.08,388.32 1710.42,388.34 1710.76,389.65 1711.1,387.29 1711.44,388.64 1711.78,388.61 1712.12,387.15 1712.46,388.73 1712.8,390.37 1713.14,388.94 1713.48,388.1 1713.82,387.64 1714.16,387.29 1714.5,388.3 1714.84,387.91 1715.18,387.26 1715.52,390.13 1715.86,390.93 1716.2,387.22 1716.54,388.19 1716.88,388.78 1717.22,388.12 1717.56,387.5 1717.9,389.82 1718.24,388.12 1718.58,390.41 1718.92,387.15 1719.26,387.21 1719.6,387.33 1719.94,389.2 1720.28,389.83 1720.62,390.39 1720.96,388.71 1721.3,389.69 1721.64,388.49 1721.98,388.82 1722.32,388.78 1722.66,388.56 1723.0,382.71 1723.34,388.76 1723.68,390.28 1724.02,389.75 1724.36,389.92 1724.7,387.54 1725.04,387.73 1725.38,385.8 1725.72,389.15 1726.06,389.6 1726.4,391.32 1726.74,385.49 1727.08,388.43 1727.42,387.68 1727.76,389.0 1728.1,388.97 1728.44,388.59 1728.78,387.89 1729.12,389.54 1729.46,389.63 1729.8,389.21 1730.14,389.53 1730.48,387.94 1730.82,388.52 1731.16,388.04 1731.5,389.43 1731.84,388.84 1732.18,386.7 1732.52,389.28 1732.86,388.14 1733.2,388.53 1733.54,388.05 1733.88,389.72 1734.22,389.55 1734.56,389.38 1734.9,389.0 1735.24,388.92 1735.58,387.78 1735.92,390.28 1736.26,385.72 1736.6,385.69 1736.94,386.73 1737.28,388.09 1737.62,388.26 1737.96,384.7 1738.3,390.25 1738.64,388.24 1738.98,387.04 1739.32,389.25 1739.66,387.46 1740.0,389.49 1740.34,389.72 1740.68,389.08 1741.02,387.84 1741.36,389.74 1741.7,388.53 1742.04,387.6 1742.38,389.1 1742.72,388.22 1743.06,388.42 1743.4,389.17 1743.74,386.83 1744.08,385.84 1744.42,389.09 1744.76,381.54 1745.1,381.15 1745.44,387.6 1745.78,389.92 1746.12,387.81 1746.46,386.73 1746.8,389.72 1747.14,386.77 1747.48,387.57 1747.82,389.75 1748.16,389.78 1748.5,386.92 1748.84,390.28 1749.18,389.53 1749.52,389.48 1749.86,388.69 1750.2,386.28 1750.54,388.86 1750.88,389.08 1751.22,389.14 1751.56,390.89 1751.9,387.19 1752.24,388.77 1752.58,388.68 1752.92,387.8 1753.26,389.41 1753.6,389.74 1753.94,389.77 1754.28,387.18 1754.62,383.47 1754.96,390.75 1755.3,389.18 1755.64,386.41 1755.98,387.95 1756.32,388.51 1756.66,389.75 1757.0,390.38 1757.34,388.51 1757.68,388.67 1758.02,387.6 1758.36,389.62 1758.7,387.48 1759.04,386.91 1759.38,389.28 1759.72,382.59 1760.06,389.31 1760.4,388.56 1760.74,389.03 1761.08,384.26 1761.42,389.64 1761.76,386.54 1762.1,388.52 1762.44,387.78 1762.78,387.41 1763.12,389.01 1763.46,387.55 1763.8,388.23 1764.14,388.03 1764.48,382.4 1764.82,386.54 1765.16,389.37 1765.5,389.47 1765.84,388.48 1766.18,389.66 1766.52,390.01 1766.86,386.9 1767.2,389.25 1767.54,388.18 1767.88,382.17 1768.22,388.77 1768.56,389.09 1768.9,388.63 1769.24,388.57 1769.58,387.26 1769.92,390.11 1770.26,390.58 1770.6,387.79 1770.94,389.46 1771.28,387.35 1771.62,387.9 1771.96,388.56 1772.3,388.44 1772.64,388.68 1772.98,386.88 1773.32,387.22 1773.66,388.45 1774.0,385.49 1774.34,391.51 1774.68,388.81 1775.02,386.77 1775.36,388.01 1775.7,388.81 1776.04,388.09 1776.38,388.42 1776.72,389.61 1777.06,380.02 1777.4,386.71 1777.74,389.18 1778.08,387.77 1778.42,388.59 1778.76,390.27 1779.1,388.39 1779.44,388.34 1779.78,389.04 1780.12,389.02 1780.46,385.21 1780.8,389.2 1781.14,388.26 1781.48,389.86 1781.82,390.22 1782.16,386.93 1782.5,388.5 1782.84,386.61 1783.18,386.82 1783.52,390.89 1783.86,383.15 1784.2,389.88 1784.54,388.55 1784.88,388.47 1785.22,385.48 1785.56,388.14 1785.9,389.06 1786.24,388.14 1786.58,387.23 1786.92,386.15 1787.26,387.1 1787.6,387.46 1787.94,388.9 1788.28,387.52 1789.4,381 1790.2,379.5 1790.9,388 1791.3,500 1791.4,937 1792.9,942.5 1795.9,946.9 1799.6,948.8 1803,949.5 1803.5,950.26 1804.0,950.05 1804.5,948.06 1805.0,949.74 1805.5,950.67 1806.0,949.66 1806.5,950.16 1807.0,949.83 1807.5,948.67 1808.0,950.42 1808.5,946.81 1809.0,949.79 1809.5,947.9 1810.0,951.2 1810.5,949.84 1811.0,948.81 1811.5,949.98 1812.0,950.7 1812.5,948.85 1813.0,949.8 1813.5,948.74 1814.0,947.71 1814.5,950.48 1815.0,949.85 1815.5,949.61 1816.0,949.01 1816.5,950.18 1817.0,948.75 1817.5,950.06 1818.0,949.53 1818.5,949.03 1819.0,950.22 1819.5,947.88 1820.0,951.39 1820.5,948.12 1821.0,949.94 1821.5,949.29 1822.0,949.87 1822.5,950.04 1823.0,950.29 1823.5,949.95 1824.0,949.65 1824.5,950.01 1825.0,949.47 1825.5,948.73 1826.0,948.62 1826.5,951.79 1827.0,948.59 1827.5,952.08 1828.0,949.68 1828.5,949.99 1829.0,949.23 1829.5,949.74 1830.0,949.33 1830.5,949.06 1831.0,948.41 1831.5,949.58 1832.0,948.99 1832.5,949.48 1833.0,951.11"/>
<rect x="317" y="278" width="3" height="680" fill="#E88A1A"/>
<rect x="453" y="278" width="3" height="680" fill="#1010A8"/>
<rect x="446" y="277" width="1657" height="3" fill="#000"/>
<rect x="446" y="957" width="1657" height="3" fill="#000"/>
<rect x="455" y="277" width="3" height="692" fill="#000"/>
<rect x="2100" y="277" width="3" height="692" fill="#000"/>
<rect x="320" y="277" width="2" height="683" fill="#000"/>
<rect x="310" y="277" width="21" height="3" fill="#000"/>
<rect x="310" y="374" width="21" height="3" fill="#000"/>
<rect x="310" y="472" width="21" height="3" fill="#000"/>
<rect x="310" y="569" width="21" height="3" fill="#000"/>
<rect x="310" y="666" width="21" height="3" fill="#000"/>
<rect x="310" y="763" width="21" height="3" fill="#000"/>
<rect x="310" y="860" width="21" height="3" fill="#000"/>
<rect x="310" y="957" width="21" height="3" fill="#000"/>
<rect x="315" y="302" width="11" height="3" fill="#000"/>
<rect x="315" y="326" width="11" height="3" fill="#000"/>
<rect x="315" y="350" width="11" height="3" fill="#000"/>
<rect x="315" y="399" width="11" height="3" fill="#000"/>
<rect x="315" y="423" width="11" height="3" fill="#000"/>
<rect x="315" y="447" width="11" height="3" fill="#000"/>
<rect x="315" y="496" width="11" height="3" fill="#000"/>
<rect x="315" y="520" width="11" height="3" fill="#000"/>
<rect x="315" y="544" width="11" height="3" fill="#000"/>
<rect x="315" y="593" width="11" height="3" fill="#000"/>
<rect x="315" y="617" width="11" height="3" fill="#000"/>
<rect x="315" y="642" width="11" height="3" fill="#000"/>
<rect x="315" y="690" width="11" height="3" fill="#000"/>
<rect x="315" y="714" width="11" height="3" fill="#000"/>
<rect x="315" y="739" width="11" height="3" fill="#000"/>
<rect x="315" y="787" width="11" height="3" fill="#000"/>
<rect x="315" y="812" width="11" height="3" fill="#000"/>
<rect x="315" y="836" width="11" height="3" fill="#000"/>
<rect x="315" y="884" width="11" height="3" fill="#000"/>
<rect x="315" y="909" width="11" height="3" fill="#000"/>
<rect x="315" y="933" width="11" height="3" fill="#000"/>
<text x="279.2" y="965.9" font-size="27.78" text-anchor="middle">24</text>
<text x="279.2" y="868.8" font-size="27.78" text-anchor="middle">26</text>
<text x="279.2" y="771.6" font-size="27.78" text-anchor="middle">28</text>
<text x="279.2" y="674.5" font-size="27.78" text-anchor="middle">30</text>
<text x="279.2" y="577.3" font-size="27.78" text-anchor="middle">32</text>
<text x="279.2" y="480.2" font-size="27.78" text-anchor="middle">34</text>
<text x="279.2" y="383.0" font-size="27.78" text-anchor="middle">36</text>
<text x="279.2" y="285.9" font-size="27.78" text-anchor="middle">38</text>
<rect x="446" y="277" width="21" height="3" fill="#000"/>
<rect x="446" y="353" width="21" height="3" fill="#000"/>
<rect x="446" y="428" width="21" height="3" fill="#000"/>
<rect x="446" y="504" width="21" height="3" fill="#000"/>
<rect x="446" y="579" width="21" height="3" fill="#000"/>
<rect x="446" y="655" width="21" height="3" fill="#000"/>
<rect x="446" y="730" width="21" height="3" fill="#000"/>
<rect x="446" y="806" width="21" height="3" fill="#000"/>
<rect x="446" y="881" width="21" height="3" fill="#000"/>
<rect x="446" y="957" width="21" height="3" fill="#000"/>
<rect x="451" y="296" width="11" height="3" fill="#000"/>
<rect x="451" y="315" width="11" height="3" fill="#000"/>
<rect x="451" y="334" width="11" height="3" fill="#000"/>
<rect x="451" y="372" width="11" height="3" fill="#000"/>
<rect x="451" y="391" width="11" height="3" fill="#000"/>
<rect x="451" y="410" width="11" height="3" fill="#000"/>
<rect x="451" y="447" width="11" height="3" fill="#000"/>
<rect x="451" y="466" width="11" height="3" fill="#000"/>
<rect x="451" y="485" width="11" height="3" fill="#000"/>
<rect x="451" y="523" width="11" height="3" fill="#000"/>
<rect x="451" y="542" width="11" height="3" fill="#000"/>
<rect x="451" y="561" width="11" height="3" fill="#000"/>
<rect x="451" y="598" width="11" height="3" fill="#000"/>
<rect x="451" y="617" width="11" height="3" fill="#000"/>
<rect x="451" y="636" width="11" height="3" fill="#000"/>
<rect x="451" y="674" width="11" height="3" fill="#000"/>
<rect x="451" y="693" width="11" height="3" fill="#000"/>
<rect x="451" y="712" width="11" height="3" fill="#000"/>
<rect x="451" y="750" width="11" height="3" fill="#000"/>
<rect x="451" y="768" width="11" height="3" fill="#000"/>
<rect x="451" y="787" width="11" height="3" fill="#000"/>
<rect x="451" y="825" width="11" height="3" fill="#000"/>
<rect x="451" y="844" width="11" height="3" fill="#000"/>
<rect x="451" y="863" width="11" height="3" fill="#000"/>
<rect x="451" y="901" width="11" height="3" fill="#000"/>
<rect x="451" y="920" width="11" height="3" fill="#000"/>
<rect x="451" y="938" width="11" height="3" fill="#000"/>
<text x="407" y="965.8" font-size="27.78" text-anchor="middle">0</text>
<text x="407" y="890.2" font-size="27.78" text-anchor="middle">20</text>
<text x="407" y="814.7" font-size="27.78" text-anchor="middle">40</text>
<text x="407" y="739.1" font-size="27.78" text-anchor="middle">60</text>
<text x="407" y="663.6" font-size="27.78" text-anchor="middle">80</text>
<text x="407" y="588.0" font-size="27.78" text-anchor="middle">100</text>
<text x="407" y="512.5" font-size="27.78" text-anchor="middle">120</text>
<text x="407" y="436.9" font-size="27.78" text-anchor="middle">140</text>
<text x="407" y="361.4" font-size="27.78" text-anchor="middle">160</text>
<text x="407" y="285.8" font-size="27.78" text-anchor="middle">180</text>
<rect x="455" y="948" width="3" height="21" fill="#000"/>
<rect x="520" y="953" width="3" height="11" fill="#000"/>
<rect x="586" y="953" width="3" height="11" fill="#000"/>
<rect x="652" y="953" width="3" height="11" fill="#000"/>
<rect x="718" y="953" width="3" height="11" fill="#000"/>
<rect x="784" y="948" width="3" height="21" fill="#000"/>
<rect x="849" y="953" width="3" height="11" fill="#000"/>
<rect x="915" y="953" width="3" height="11" fill="#000"/>
<rect x="981" y="953" width="3" height="11" fill="#000"/>
<rect x="1047" y="953" width="3" height="11" fill="#000"/>
<rect x="1113" y="948" width="3" height="21" fill="#000"/>
<rect x="1178" y="953" width="3" height="11" fill="#000"/>
<rect x="1244" y="953" width="3" height="11" fill="#000"/>
<rect x="1310" y="953" width="3" height="11" fill="#000"/>
<rect x="1376" y="953" width="3" height="11" fill="#000"/>
<rect x="1442" y="948" width="3" height="21" fill="#000"/>
<rect x="1507" y="953" width="3" height="11" fill="#000"/>
<rect x="1573" y="953" width="3" height="11" fill="#000"/>
<rect x="1639" y="953" width="3" height="11" fill="#000"/>
<rect x="1705" y="953" width="3" height="11" fill="#000"/>
<rect x="1771" y="948" width="3" height="21" fill="#000"/>
<rect x="1836" y="953" width="3" height="11" fill="#000"/>
<rect x="1902" y="953" width="3" height="11" fill="#000"/>
<rect x="1968" y="953" width="3" height="11" fill="#000"/>
<rect x="2034" y="953" width="3" height="11" fill="#000"/>
<rect x="2100" y="948" width="3" height="21" fill="#000"/>
<text x="456.5" y="1004" font-size="27.78" text-anchor="middle">0:00</text>
<text x="785.5" y="1004" font-size="27.78" text-anchor="middle">1:40</text>
<text x="1114.5" y="1004" font-size="27.78" text-anchor="middle">3:20</text>
<text x="1443.5" y="1004" font-size="27.78" text-anchor="middle">5:00</text>
<text x="1772.5" y="1004" font-size="27.78" text-anchor="middle">6:40</text>
<text x="2101.5" y="1004" font-size="27.78" text-anchor="middle">8:20</text>
<text x="1279" y="1050" font-size="27.5" text-anchor="middle" font-weight="bold">min</text>
<text transform="translate(242.5,618.5) rotate(-90)" font-size="23.6" font-weight="bold" text-anchor="middle">°C</text>
<text transform="translate(362.5,618.5) rotate(-90)" font-size="23.6" font-weight="bold" text-anchor="middle">bar</text>
<rect x="199" y="1113" width="1359" height="3" fill="#000"/>
<rect x="199" y="1151" width="1359" height="3" fill="#000"/>
<rect x="199" y="1189" width="1359" height="3" fill="#000"/>
<rect x="199" y="1227" width="1359" height="3" fill="#000"/>
<rect x="199" y="1075" width="3" height="155" fill="#000"/>
<rect x="1555" y="1075" width="3" height="155" fill="#000"/>
<rect x="519" y="1113" width="3" height="41" fill="#000"/>
<rect x="807" y="1113" width="3" height="41" fill="#000"/>
<rect x="327" y="1151" width="3" height="79" fill="#000"/>
<rect x="439" y="1151" width="3" height="79" fill="#000"/>
<rect x="551" y="1151" width="3" height="79" fill="#000"/>
<rect x="649" y="1151" width="3" height="79" fill="#000"/>
<rect x="739" y="1151" width="3" height="79" fill="#000"/>
<rect x="853" y="1151" width="3" height="79" fill="#000"/>
<rect x="981" y="1151" width="3" height="79" fill="#000"/>
<rect x="1081" y="1151" width="3" height="79" fill="#000"/>
<rect x="1189" y="1151" width="3" height="79" fill="#000"/>
<rect x="1287" y="1151" width="3" height="79" fill="#000"/>
<rect x="1415" y="1151" width="3" height="79" fill="#000"/>
<text x="203.5" y="1102" font-size="23.1" text-anchor="start">Legend&#160;&#160;5/10/2013&#160;&#160;9:50:22 AM</text>
<text x="204" y="1140" font-size="23.1" text-anchor="start">Measuring name (title)</text>
<text x="523.5" y="1140" font-size="23.1" text-anchor="start">HPI MR ROLLER 1</text>
<text x="811.5" y="1140" font-size="23.1" text-anchor="start">Detail legend</text>
<text x="204" y="1178" font-size="23.1" text-anchor="start">Channel</text>
<text x="332" y="1178" font-size="23.1" text-anchor="start">Input</text>
<text x="444" y="1178" font-size="23.1" text-anchor="start">Name</text>
<text x="556" y="1178" font-size="23.1" text-anchor="start">View</text>
<text x="654" y="1178" font-size="23.1" text-anchor="start">Unit</text>
<text x="744" y="1178" font-size="23.1" text-anchor="start">Visible</text>
<text x="858" y="1178" font-size="23.1" text-anchor="start">Channel</text>
<text x="986" y="1178" font-size="23.1" text-anchor="start">Input</text>
<text x="1086" y="1178" font-size="23.1" text-anchor="start">Name</text>
<text x="1194" y="1178" font-size="23.1" text-anchor="start">View</text>
<text x="1292" y="1178" font-size="23.1" text-anchor="start">Unit</text>
<text x="1420" y="1178" font-size="23.1" text-anchor="start">Visible</text>
<rect x="200" y="1208" width="41" height="3" fill="#0000D8"/>
<text x="246" y="1216" font-size="23.1" text-anchor="start">A1</text>
<text x="332" y="1216" font-size="23.1" text-anchor="start">IN1</text>
<text x="556" y="1216" font-size="23.1" text-anchor="start">ACT</text>
<text x="654" y="1216" font-size="23.1" text-anchor="start">bar</text>
<text x="744" y="1216" font-size="23.1" text-anchor="start">Yes</text>
<rect x="856" y="1208" width="39" height="3" fill="#F28C12"/>
<text x="900" y="1216" font-size="23.1" text-anchor="start">A2</text>
<text x="986" y="1216" font-size="23.1" text-anchor="start">IN1T</text>
<text x="1194" y="1216" font-size="23.1" text-anchor="start">ACT</text>
<text x="1292" y="1216" font-size="23.1" text-anchor="start">°C</text>
<text x="1420" y="1216" font-size="23.1" text-anchor="start">Yes</text></svg>
</body></html>
